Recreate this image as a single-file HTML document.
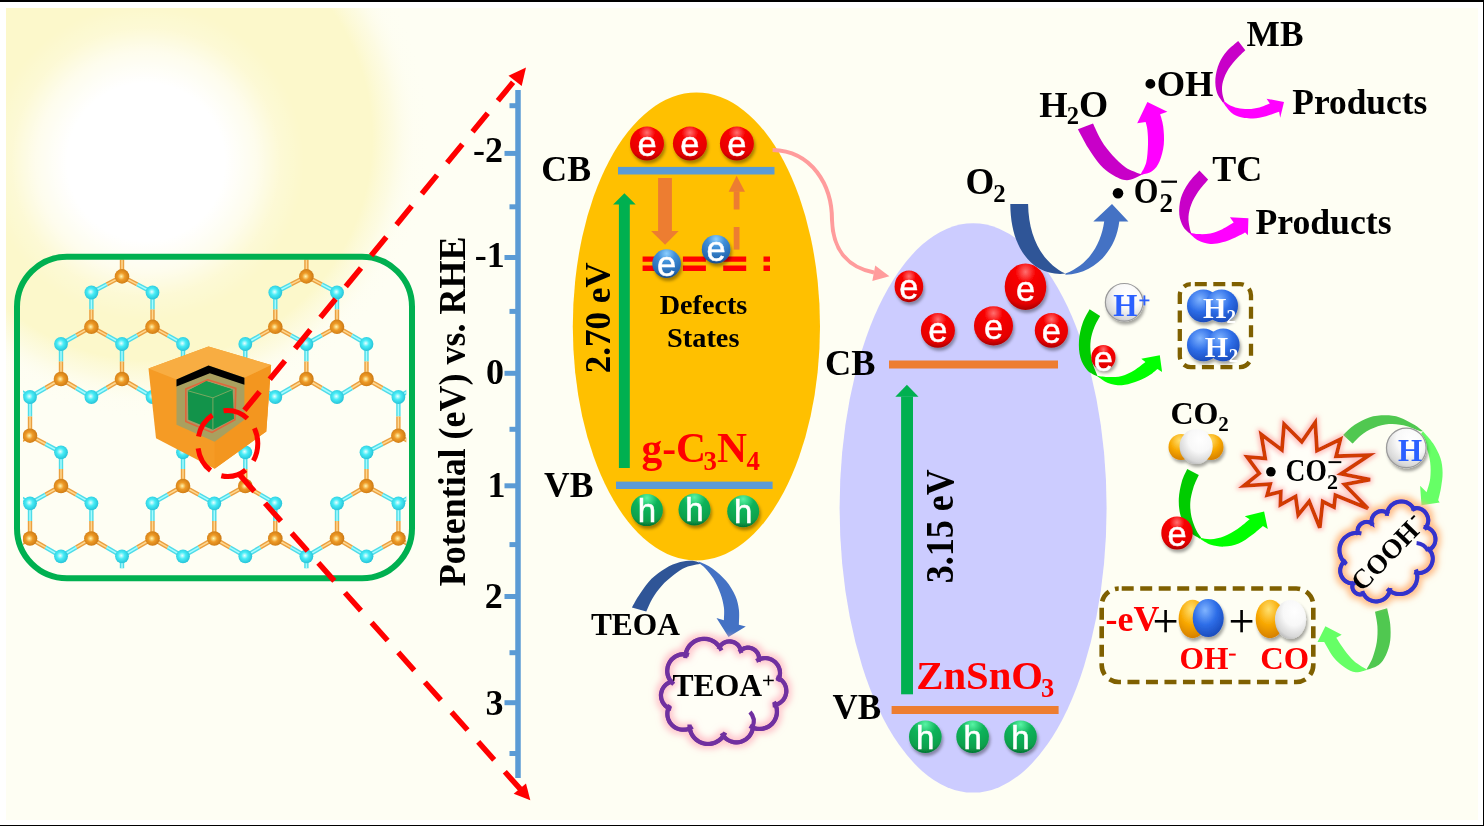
<!DOCTYPE html>
<html><head><meta charset="utf-8"><style>
html,body{margin:0;padding:0;background:#fff;overflow:hidden}
svg{display:block;will-change:transform}
</style></head><body>
<svg width="1484" height="826" viewBox="0 0 1484 826">
<defs>
 <radialGradient id="sunG" cx="150" cy="138" r="300" gradientUnits="userSpaceOnUse">
  <stop offset="0" stop-color="#fcf8cb"/>
  <stop offset="0.74" stop-color="#fcf8cb"/>
  <stop offset="0.81" stop-color="#fcf9d6" stop-opacity="0.6"/>
  <stop offset="0.88" stop-color="#fdfcec" stop-opacity="0.15"/>
  <stop offset="0.94" stop-color="#fefef3" stop-opacity="0"/>
 </radialGradient>
 <radialGradient id="sunW" cx="146" cy="162" r="158" gradientUnits="userSpaceOnUse">
  <stop offset="0" stop-color="#ffffff"/>
  <stop offset="0.5" stop-color="#ffffff"/>
  <stop offset="0.7" stop-color="#ffffff" stop-opacity="0.65"/>
  <stop offset="0.85" stop-color="#ffffff" stop-opacity="0.2"/>
  <stop offset="1" stop-color="#ffffff" stop-opacity="0"/>
 </radialGradient>
 <radialGradient id="cyanB" cx="0.45" cy="0.45" r="0.6">
  <stop offset="0" stop-color="#e8ffff"/>
  <stop offset="0.4" stop-color="#48ecf6"/>
  <stop offset="1" stop-color="#22bed4"/>
 </radialGradient>
 <radialGradient id="orB" cx="0.45" cy="0.5" r="0.6">
  <stop offset="0" stop-color="#fff6b0"/>
  <stop offset="0.4" stop-color="#ee9a26"/>
  <stop offset="1" stop-color="#c67410"/>
 </radialGradient>
 <radialGradient id="redB" cx="0.5" cy="0.18" r="0.8">
  <stop offset="0" stop-color="#ff7070"/>
  <stop offset="0.3" stop-color="#f80000"/>
  <stop offset="0.85" stop-color="#e40000"/>
  <stop offset="1" stop-color="#b00000"/>
 </radialGradient>
 <radialGradient id="bluB" cx="0.5" cy="0.15" r="0.85">
  <stop offset="0" stop-color="#8ccfff"/>
  <stop offset="0.35" stop-color="#3f8fd8"/>
  <stop offset="0.85" stop-color="#2466b0"/>
  <stop offset="1" stop-color="#174a88"/>
 </radialGradient>
 <radialGradient id="grnB" cx="0.5" cy="0.12" r="0.85">
  <stop offset="0" stop-color="#58f4a4"/>
  <stop offset="0.4" stop-color="#0db35a"/>
  <stop offset="0.85" stop-color="#09a04c"/>
  <stop offset="1" stop-color="#067a36"/>
 </radialGradient>
 <radialGradient id="whtB" cx="0.62" cy="0.3" r="0.8">
  <stop offset="0" stop-color="#ffffff"/>
  <stop offset="0.45" stop-color="#f8f8f8"/>
  <stop offset="0.8" stop-color="#d8d8d8"/>
  <stop offset="1" stop-color="#a8a8a8"/>
 </radialGradient>
 <radialGradient id="h2B" cx="0.4" cy="0.3" r="0.75">
  <stop offset="0" stop-color="#80b4ff"/>
  <stop offset="0.5" stop-color="#2e6ee8"/>
  <stop offset="1" stop-color="#1848b8"/>
 </radialGradient>
 <radialGradient id="orS" cx="0.45" cy="0.25" r="0.8">
  <stop offset="0" stop-color="#ffe070"/>
  <stop offset="0.5" stop-color="#f8a800"/>
  <stop offset="1" stop-color="#d07a00"/>
 </radialGradient>
 <clipPath id="latClip"><rect x="23" y="259.5" width="383.3" height="308.8"/></clipPath>
 <filter id="sh" x="-40%" y="-40%" width="190%" height="190%">
  <feDropShadow dx="1.5" dy="3" stdDeviation="1.8" flood-color="#000" flood-opacity="0.35"/>
 </filter>
 <filter id="glowR" x="-20%" y="-20%" width="140%" height="140%">
  <feMorphology operator="dilate" radius="1.5" in="SourceAlpha" result="d"/>
  <feGaussianBlur in="d" stdDeviation="2.2" result="b"/>
  <feFlood flood-color="#ff9a9a" flood-opacity="0.55"/>
  <feComposite in2="b" operator="in" result="g"/>
  <feMerge><feMergeNode in="g"/><feMergeNode in="SourceGraphic"/></feMerge>
 </filter>
 <filter id="glowO" x="-20%" y="-20%" width="140%" height="140%">
  <feMorphology operator="dilate" radius="3" in="SourceAlpha" result="d"/>
  <feGaussianBlur in="d" stdDeviation="3" result="b"/>
  <feFlood flood-color="#ffb47a" flood-opacity="0.9"/>
  <feComposite in2="b" operator="in" result="g"/>
  <feMerge><feMergeNode in="g"/><feMergeNode in="SourceGraphic"/></feMerge>
 </filter>
 <filter id="glowPk" x="-20%" y="-20%" width="140%" height="140%">
  <feMorphology operator="dilate" radius="2.5" in="SourceAlpha" result="d"/>
  <feGaussianBlur in="d" stdDeviation="3" result="b"/>
  <feFlood flood-color="#ffb4c0" flood-opacity="0.75"/>
  <feComposite in2="b" operator="in" result="g"/>
  <feMerge><feMergeNode in="g"/><feMergeNode in="SourceGraphic"/></feMerge>
 </filter>
</defs>
<rect x="0" y="0" width="1484" height="826" fill="#ffffff"/>
<rect x="6" y="8" width="1472" height="812" fill="#fefef3"/>
<rect x="6" y="8" width="1472" height="812" fill="url(#sunG)"/>
<rect x="6" y="8" width="1472" height="812" fill="url(#sunW)"/>
<rect x="0" y="0" width="1484" height="2" fill="#000"/>
<rect x="1483" y="0" width="1" height="826" fill="#000"/>
<rect x="0" y="825" width="1484" height="1" fill="#000"/>
<g clip-path="url(#latClip)"><line x1="122.0" y1="241.5" x2="122.0" y2="258.9" stroke="#4fdce8" stroke-width="4.4"/><line x1="122.0" y1="258.9" x2="122.0" y2="276.4" stroke="#eaa040" stroke-width="4.4"/><line x1="122.0" y1="241.5" x2="122.0" y2="258.9" stroke="#a8fbff" stroke-width="1.5"/><line x1="122.0" y1="258.9" x2="122.0" y2="276.4" stroke="#ffd890" stroke-width="1.5"/><line x1="306.4" y1="241.5" x2="306.4" y2="258.9" stroke="#4fdce8" stroke-width="4.4"/><line x1="306.4" y1="258.9" x2="306.4" y2="276.4" stroke="#eaa040" stroke-width="4.4"/><line x1="306.4" y1="241.5" x2="306.4" y2="258.9" stroke="#a8fbff" stroke-width="1.5"/><line x1="306.4" y1="258.9" x2="306.4" y2="276.4" stroke="#ffd890" stroke-width="1.5"/><line x1="122.0" y1="276.4" x2="106.7" y2="284.4" stroke="#eaa040" stroke-width="4.4"/><line x1="106.7" y1="284.4" x2="91.4" y2="292.5" stroke="#4fdce8" stroke-width="4.4"/><line x1="122.0" y1="276.4" x2="106.7" y2="284.4" stroke="#ffd890" stroke-width="1.5"/><line x1="106.7" y1="284.4" x2="91.4" y2="292.5" stroke="#a8fbff" stroke-width="1.5"/><line x1="122.0" y1="276.4" x2="137.2" y2="284.4" stroke="#eaa040" stroke-width="4.4"/><line x1="137.2" y1="284.4" x2="152.5" y2="292.5" stroke="#4fdce8" stroke-width="4.4"/><line x1="122.0" y1="276.4" x2="137.2" y2="284.4" stroke="#ffd890" stroke-width="1.5"/><line x1="137.2" y1="284.4" x2="152.5" y2="292.5" stroke="#a8fbff" stroke-width="1.5"/><line x1="306.4" y1="276.4" x2="290.9" y2="284.4" stroke="#eaa040" stroke-width="4.4"/><line x1="290.9" y1="284.4" x2="275.3" y2="292.5" stroke="#4fdce8" stroke-width="4.4"/><line x1="306.4" y1="276.4" x2="290.9" y2="284.4" stroke="#ffd890" stroke-width="1.5"/><line x1="290.9" y1="284.4" x2="275.3" y2="292.5" stroke="#a8fbff" stroke-width="1.5"/><line x1="306.4" y1="276.4" x2="321.7" y2="284.4" stroke="#eaa040" stroke-width="4.4"/><line x1="321.7" y1="284.4" x2="337.0" y2="292.5" stroke="#4fdce8" stroke-width="4.4"/><line x1="306.4" y1="276.4" x2="321.7" y2="284.4" stroke="#ffd890" stroke-width="1.5"/><line x1="321.7" y1="284.4" x2="337.0" y2="292.5" stroke="#a8fbff" stroke-width="1.5"/><line x1="91.4" y1="292.5" x2="91.4" y2="309.6" stroke="#4fdce8" stroke-width="4.4"/><line x1="91.4" y1="309.6" x2="91.4" y2="326.8" stroke="#eaa040" stroke-width="4.4"/><line x1="91.4" y1="292.5" x2="91.4" y2="309.6" stroke="#a8fbff" stroke-width="1.5"/><line x1="91.4" y1="309.6" x2="91.4" y2="326.8" stroke="#ffd890" stroke-width="1.5"/><line x1="152.5" y1="292.5" x2="152.5" y2="309.6" stroke="#4fdce8" stroke-width="4.4"/><line x1="152.5" y1="309.6" x2="152.5" y2="326.8" stroke="#eaa040" stroke-width="4.4"/><line x1="152.5" y1="292.5" x2="152.5" y2="309.6" stroke="#a8fbff" stroke-width="1.5"/><line x1="152.5" y1="309.6" x2="152.5" y2="326.8" stroke="#ffd890" stroke-width="1.5"/><line x1="275.3" y1="292.5" x2="275.3" y2="309.6" stroke="#4fdce8" stroke-width="4.4"/><line x1="275.3" y1="309.6" x2="275.3" y2="326.8" stroke="#eaa040" stroke-width="4.4"/><line x1="275.3" y1="292.5" x2="275.3" y2="309.6" stroke="#a8fbff" stroke-width="1.5"/><line x1="275.3" y1="309.6" x2="275.3" y2="326.8" stroke="#ffd890" stroke-width="1.5"/><line x1="337.0" y1="292.5" x2="337.0" y2="309.6" stroke="#4fdce8" stroke-width="4.4"/><line x1="337.0" y1="309.6" x2="337.0" y2="326.8" stroke="#eaa040" stroke-width="4.4"/><line x1="337.0" y1="292.5" x2="337.0" y2="309.6" stroke="#a8fbff" stroke-width="1.5"/><line x1="337.0" y1="309.6" x2="337.0" y2="326.8" stroke="#ffd890" stroke-width="1.5"/><line x1="-31.4" y1="326.8" x2="-16.1" y2="335.4" stroke="#eaa040" stroke-width="4.4"/><line x1="-16.1" y1="335.4" x2="-0.7" y2="344.0" stroke="#4fdce8" stroke-width="4.4"/><line x1="-31.4" y1="326.8" x2="-16.1" y2="335.4" stroke="#ffd890" stroke-width="1.5"/><line x1="-16.1" y1="335.4" x2="-0.7" y2="344.0" stroke="#a8fbff" stroke-width="1.5"/><line x1="91.4" y1="326.8" x2="76.2" y2="335.4" stroke="#eaa040" stroke-width="4.4"/><line x1="76.2" y1="335.4" x2="61.0" y2="344.0" stroke="#4fdce8" stroke-width="4.4"/><line x1="91.4" y1="326.8" x2="76.2" y2="335.4" stroke="#ffd890" stroke-width="1.5"/><line x1="76.2" y1="335.4" x2="61.0" y2="344.0" stroke="#a8fbff" stroke-width="1.5"/><line x1="91.4" y1="326.8" x2="106.7" y2="335.4" stroke="#eaa040" stroke-width="4.4"/><line x1="106.7" y1="335.4" x2="122.0" y2="344.0" stroke="#4fdce8" stroke-width="4.4"/><line x1="91.4" y1="326.8" x2="106.7" y2="335.4" stroke="#ffd890" stroke-width="1.5"/><line x1="106.7" y1="335.4" x2="122.0" y2="344.0" stroke="#a8fbff" stroke-width="1.5"/><line x1="152.5" y1="326.8" x2="137.2" y2="335.4" stroke="#eaa040" stroke-width="4.4"/><line x1="137.2" y1="335.4" x2="122.0" y2="344.0" stroke="#4fdce8" stroke-width="4.4"/><line x1="152.5" y1="326.8" x2="137.2" y2="335.4" stroke="#ffd890" stroke-width="1.5"/><line x1="137.2" y1="335.4" x2="122.0" y2="344.0" stroke="#a8fbff" stroke-width="1.5"/><line x1="152.5" y1="326.8" x2="167.8" y2="335.4" stroke="#eaa040" stroke-width="4.4"/><line x1="167.8" y1="335.4" x2="183.0" y2="344.0" stroke="#4fdce8" stroke-width="4.4"/><line x1="152.5" y1="326.8" x2="167.8" y2="335.4" stroke="#ffd890" stroke-width="1.5"/><line x1="167.8" y1="335.4" x2="183.0" y2="344.0" stroke="#a8fbff" stroke-width="1.5"/><line x1="275.3" y1="326.8" x2="260.3" y2="335.4" stroke="#eaa040" stroke-width="4.4"/><line x1="260.3" y1="335.4" x2="245.3" y2="344.0" stroke="#4fdce8" stroke-width="4.4"/><line x1="275.3" y1="326.8" x2="260.3" y2="335.4" stroke="#ffd890" stroke-width="1.5"/><line x1="260.3" y1="335.4" x2="245.3" y2="344.0" stroke="#a8fbff" stroke-width="1.5"/><line x1="275.3" y1="326.8" x2="290.9" y2="335.4" stroke="#eaa040" stroke-width="4.4"/><line x1="290.9" y1="335.4" x2="306.4" y2="344.0" stroke="#4fdce8" stroke-width="4.4"/><line x1="275.3" y1="326.8" x2="290.9" y2="335.4" stroke="#ffd890" stroke-width="1.5"/><line x1="290.9" y1="335.4" x2="306.4" y2="344.0" stroke="#a8fbff" stroke-width="1.5"/><line x1="337.0" y1="326.8" x2="321.7" y2="335.4" stroke="#eaa040" stroke-width="4.4"/><line x1="321.7" y1="335.4" x2="306.4" y2="344.0" stroke="#4fdce8" stroke-width="4.4"/><line x1="337.0" y1="326.8" x2="321.7" y2="335.4" stroke="#ffd890" stroke-width="1.5"/><line x1="321.7" y1="335.4" x2="306.4" y2="344.0" stroke="#a8fbff" stroke-width="1.5"/><line x1="337.0" y1="326.8" x2="351.8" y2="335.4" stroke="#eaa040" stroke-width="4.4"/><line x1="351.8" y1="335.4" x2="366.5" y2="344.0" stroke="#4fdce8" stroke-width="4.4"/><line x1="337.0" y1="326.8" x2="351.8" y2="335.4" stroke="#ffd890" stroke-width="1.5"/><line x1="351.8" y1="335.4" x2="366.5" y2="344.0" stroke="#a8fbff" stroke-width="1.5"/><line x1="459.8" y1="326.8" x2="444.5" y2="335.4" stroke="#eaa040" stroke-width="4.4"/><line x1="444.5" y1="335.4" x2="429.1" y2="344.0" stroke="#4fdce8" stroke-width="4.4"/><line x1="459.8" y1="326.8" x2="444.5" y2="335.4" stroke="#ffd890" stroke-width="1.5"/><line x1="444.5" y1="335.4" x2="429.1" y2="344.0" stroke="#a8fbff" stroke-width="1.5"/><line x1="-0.7" y1="344.0" x2="-0.7" y2="361.5" stroke="#4fdce8" stroke-width="4.4"/><line x1="-0.7" y1="361.5" x2="-0.7" y2="379.0" stroke="#eaa040" stroke-width="4.4"/><line x1="-0.7" y1="344.0" x2="-0.7" y2="361.5" stroke="#a8fbff" stroke-width="1.5"/><line x1="-0.7" y1="361.5" x2="-0.7" y2="379.0" stroke="#ffd890" stroke-width="1.5"/><line x1="61.0" y1="344.0" x2="61.0" y2="361.5" stroke="#4fdce8" stroke-width="4.4"/><line x1="61.0" y1="361.5" x2="61.0" y2="379.0" stroke="#eaa040" stroke-width="4.4"/><line x1="61.0" y1="344.0" x2="61.0" y2="361.5" stroke="#a8fbff" stroke-width="1.5"/><line x1="61.0" y1="361.5" x2="61.0" y2="379.0" stroke="#ffd890" stroke-width="1.5"/><line x1="122.0" y1="344.0" x2="122.0" y2="361.5" stroke="#4fdce8" stroke-width="4.4"/><line x1="122.0" y1="361.5" x2="122.0" y2="379.0" stroke="#eaa040" stroke-width="4.4"/><line x1="122.0" y1="344.0" x2="122.0" y2="361.5" stroke="#a8fbff" stroke-width="1.5"/><line x1="122.0" y1="361.5" x2="122.0" y2="379.0" stroke="#ffd890" stroke-width="1.5"/><line x1="183.0" y1="344.0" x2="183.0" y2="361.5" stroke="#4fdce8" stroke-width="4.4"/><line x1="183.0" y1="361.5" x2="183.0" y2="379.0" stroke="#eaa040" stroke-width="4.4"/><line x1="183.0" y1="344.0" x2="183.0" y2="361.5" stroke="#a8fbff" stroke-width="1.5"/><line x1="183.0" y1="361.5" x2="183.0" y2="379.0" stroke="#ffd890" stroke-width="1.5"/><line x1="245.3" y1="344.0" x2="245.3" y2="361.5" stroke="#4fdce8" stroke-width="4.4"/><line x1="245.3" y1="361.5" x2="245.3" y2="379.0" stroke="#eaa040" stroke-width="4.4"/><line x1="245.3" y1="344.0" x2="245.3" y2="361.5" stroke="#a8fbff" stroke-width="1.5"/><line x1="245.3" y1="361.5" x2="245.3" y2="379.0" stroke="#ffd890" stroke-width="1.5"/><line x1="306.4" y1="344.0" x2="306.4" y2="361.5" stroke="#4fdce8" stroke-width="4.4"/><line x1="306.4" y1="361.5" x2="306.4" y2="379.0" stroke="#eaa040" stroke-width="4.4"/><line x1="306.4" y1="344.0" x2="306.4" y2="361.5" stroke="#a8fbff" stroke-width="1.5"/><line x1="306.4" y1="361.5" x2="306.4" y2="379.0" stroke="#ffd890" stroke-width="1.5"/><line x1="366.5" y1="344.0" x2="366.5" y2="361.5" stroke="#4fdce8" stroke-width="4.4"/><line x1="366.5" y1="361.5" x2="366.5" y2="379.0" stroke="#eaa040" stroke-width="4.4"/><line x1="366.5" y1="344.0" x2="366.5" y2="361.5" stroke="#a8fbff" stroke-width="1.5"/><line x1="366.5" y1="361.5" x2="366.5" y2="379.0" stroke="#ffd890" stroke-width="1.5"/><line x1="429.1" y1="344.0" x2="429.1" y2="361.5" stroke="#4fdce8" stroke-width="4.4"/><line x1="429.1" y1="361.5" x2="429.1" y2="379.0" stroke="#eaa040" stroke-width="4.4"/><line x1="429.1" y1="344.0" x2="429.1" y2="361.5" stroke="#a8fbff" stroke-width="1.5"/><line x1="429.1" y1="361.5" x2="429.1" y2="379.0" stroke="#ffd890" stroke-width="1.5"/><line x1="-0.7" y1="379.0" x2="-16.1" y2="388.0" stroke="#eaa040" stroke-width="4.4"/><line x1="-16.1" y1="388.0" x2="-31.4" y2="397.0" stroke="#4fdce8" stroke-width="4.4"/><line x1="-0.7" y1="379.0" x2="-16.1" y2="388.0" stroke="#ffd890" stroke-width="1.5"/><line x1="-16.1" y1="388.0" x2="-31.4" y2="397.0" stroke="#a8fbff" stroke-width="1.5"/><line x1="-0.7" y1="379.0" x2="14.7" y2="388.0" stroke="#eaa040" stroke-width="4.4"/><line x1="14.7" y1="388.0" x2="30.0" y2="397.0" stroke="#4fdce8" stroke-width="4.4"/><line x1="-0.7" y1="379.0" x2="14.7" y2="388.0" stroke="#ffd890" stroke-width="1.5"/><line x1="14.7" y1="388.0" x2="30.0" y2="397.0" stroke="#a8fbff" stroke-width="1.5"/><line x1="61.0" y1="379.0" x2="45.5" y2="388.0" stroke="#eaa040" stroke-width="4.4"/><line x1="45.5" y1="388.0" x2="30.0" y2="397.0" stroke="#4fdce8" stroke-width="4.4"/><line x1="61.0" y1="379.0" x2="45.5" y2="388.0" stroke="#ffd890" stroke-width="1.5"/><line x1="45.5" y1="388.0" x2="30.0" y2="397.0" stroke="#a8fbff" stroke-width="1.5"/><line x1="61.0" y1="379.0" x2="76.2" y2="388.0" stroke="#eaa040" stroke-width="4.4"/><line x1="76.2" y1="388.0" x2="91.4" y2="397.0" stroke="#4fdce8" stroke-width="4.4"/><line x1="61.0" y1="379.0" x2="76.2" y2="388.0" stroke="#ffd890" stroke-width="1.5"/><line x1="76.2" y1="388.0" x2="91.4" y2="397.0" stroke="#a8fbff" stroke-width="1.5"/><line x1="122.0" y1="379.0" x2="106.7" y2="388.0" stroke="#eaa040" stroke-width="4.4"/><line x1="106.7" y1="388.0" x2="91.4" y2="397.0" stroke="#4fdce8" stroke-width="4.4"/><line x1="122.0" y1="379.0" x2="106.7" y2="388.0" stroke="#ffd890" stroke-width="1.5"/><line x1="106.7" y1="388.0" x2="91.4" y2="397.0" stroke="#a8fbff" stroke-width="1.5"/><line x1="122.0" y1="379.0" x2="137.2" y2="388.0" stroke="#eaa040" stroke-width="4.4"/><line x1="137.2" y1="388.0" x2="152.5" y2="397.0" stroke="#4fdce8" stroke-width="4.4"/><line x1="122.0" y1="379.0" x2="137.2" y2="388.0" stroke="#ffd890" stroke-width="1.5"/><line x1="137.2" y1="388.0" x2="152.5" y2="397.0" stroke="#a8fbff" stroke-width="1.5"/><line x1="183.0" y1="379.0" x2="167.8" y2="388.0" stroke="#eaa040" stroke-width="4.4"/><line x1="167.8" y1="388.0" x2="152.5" y2="397.0" stroke="#4fdce8" stroke-width="4.4"/><line x1="183.0" y1="379.0" x2="167.8" y2="388.0" stroke="#ffd890" stroke-width="1.5"/><line x1="167.8" y1="388.0" x2="152.5" y2="397.0" stroke="#a8fbff" stroke-width="1.5"/><line x1="183.0" y1="379.0" x2="198.7" y2="388.0" stroke="#eaa040" stroke-width="4.4"/><line x1="198.7" y1="388.0" x2="214.3" y2="397.0" stroke="#4fdce8" stroke-width="4.4"/><line x1="183.0" y1="379.0" x2="198.7" y2="388.0" stroke="#ffd890" stroke-width="1.5"/><line x1="198.7" y1="388.0" x2="214.3" y2="397.0" stroke="#a8fbff" stroke-width="1.5"/><line x1="245.3" y1="379.0" x2="229.8" y2="388.0" stroke="#eaa040" stroke-width="4.4"/><line x1="229.8" y1="388.0" x2="214.3" y2="397.0" stroke="#4fdce8" stroke-width="4.4"/><line x1="245.3" y1="379.0" x2="229.8" y2="388.0" stroke="#ffd890" stroke-width="1.5"/><line x1="229.8" y1="388.0" x2="214.3" y2="397.0" stroke="#a8fbff" stroke-width="1.5"/><line x1="245.3" y1="379.0" x2="260.3" y2="388.0" stroke="#eaa040" stroke-width="4.4"/><line x1="260.3" y1="388.0" x2="275.3" y2="397.0" stroke="#4fdce8" stroke-width="4.4"/><line x1="245.3" y1="379.0" x2="260.3" y2="388.0" stroke="#ffd890" stroke-width="1.5"/><line x1="260.3" y1="388.0" x2="275.3" y2="397.0" stroke="#a8fbff" stroke-width="1.5"/><line x1="306.4" y1="379.0" x2="290.9" y2="388.0" stroke="#eaa040" stroke-width="4.4"/><line x1="290.9" y1="388.0" x2="275.3" y2="397.0" stroke="#4fdce8" stroke-width="4.4"/><line x1="306.4" y1="379.0" x2="290.9" y2="388.0" stroke="#ffd890" stroke-width="1.5"/><line x1="290.9" y1="388.0" x2="275.3" y2="397.0" stroke="#a8fbff" stroke-width="1.5"/><line x1="306.4" y1="379.0" x2="321.7" y2="388.0" stroke="#eaa040" stroke-width="4.4"/><line x1="321.7" y1="388.0" x2="337.0" y2="397.0" stroke="#4fdce8" stroke-width="4.4"/><line x1="306.4" y1="379.0" x2="321.7" y2="388.0" stroke="#ffd890" stroke-width="1.5"/><line x1="321.7" y1="388.0" x2="337.0" y2="397.0" stroke="#a8fbff" stroke-width="1.5"/><line x1="366.5" y1="379.0" x2="351.8" y2="388.0" stroke="#eaa040" stroke-width="4.4"/><line x1="351.8" y1="388.0" x2="337.0" y2="397.0" stroke="#4fdce8" stroke-width="4.4"/><line x1="366.5" y1="379.0" x2="351.8" y2="388.0" stroke="#ffd890" stroke-width="1.5"/><line x1="351.8" y1="388.0" x2="337.0" y2="397.0" stroke="#a8fbff" stroke-width="1.5"/><line x1="366.5" y1="379.0" x2="382.4" y2="388.0" stroke="#eaa040" stroke-width="4.4"/><line x1="382.4" y1="388.0" x2="398.4" y2="397.0" stroke="#4fdce8" stroke-width="4.4"/><line x1="366.5" y1="379.0" x2="382.4" y2="388.0" stroke="#ffd890" stroke-width="1.5"/><line x1="382.4" y1="388.0" x2="398.4" y2="397.0" stroke="#a8fbff" stroke-width="1.5"/><line x1="429.1" y1="379.0" x2="413.8" y2="388.0" stroke="#eaa040" stroke-width="4.4"/><line x1="413.8" y1="388.0" x2="398.4" y2="397.0" stroke="#4fdce8" stroke-width="4.4"/><line x1="429.1" y1="379.0" x2="413.8" y2="388.0" stroke="#ffd890" stroke-width="1.5"/><line x1="413.8" y1="388.0" x2="398.4" y2="397.0" stroke="#a8fbff" stroke-width="1.5"/><line x1="429.1" y1="379.0" x2="444.5" y2="388.0" stroke="#eaa040" stroke-width="4.4"/><line x1="444.5" y1="388.0" x2="459.8" y2="397.0" stroke="#4fdce8" stroke-width="4.4"/><line x1="429.1" y1="379.0" x2="444.5" y2="388.0" stroke="#ffd890" stroke-width="1.5"/><line x1="444.5" y1="388.0" x2="459.8" y2="397.0" stroke="#a8fbff" stroke-width="1.5"/><line x1="30.0" y1="397.0" x2="30.0" y2="416.4" stroke="#4fdce8" stroke-width="4.4"/><line x1="30.0" y1="416.4" x2="30.0" y2="435.7" stroke="#eaa040" stroke-width="4.4"/><line x1="30.0" y1="397.0" x2="30.0" y2="416.4" stroke="#a8fbff" stroke-width="1.5"/><line x1="30.0" y1="416.4" x2="30.0" y2="435.7" stroke="#ffd890" stroke-width="1.5"/><line x1="214.3" y1="397.0" x2="214.3" y2="416.4" stroke="#4fdce8" stroke-width="4.4"/><line x1="214.3" y1="416.4" x2="214.3" y2="435.7" stroke="#eaa040" stroke-width="4.4"/><line x1="214.3" y1="397.0" x2="214.3" y2="416.4" stroke="#a8fbff" stroke-width="1.5"/><line x1="214.3" y1="416.4" x2="214.3" y2="435.7" stroke="#ffd890" stroke-width="1.5"/><line x1="398.4" y1="397.0" x2="398.4" y2="416.4" stroke="#4fdce8" stroke-width="4.4"/><line x1="398.4" y1="416.4" x2="398.4" y2="435.7" stroke="#eaa040" stroke-width="4.4"/><line x1="398.4" y1="397.0" x2="398.4" y2="416.4" stroke="#a8fbff" stroke-width="1.5"/><line x1="398.4" y1="416.4" x2="398.4" y2="435.7" stroke="#ffd890" stroke-width="1.5"/><line x1="30.0" y1="435.7" x2="14.7" y2="444.0" stroke="#eaa040" stroke-width="4.4"/><line x1="14.7" y1="444.0" x2="-0.7" y2="452.3" stroke="#4fdce8" stroke-width="4.4"/><line x1="30.0" y1="435.7" x2="14.7" y2="444.0" stroke="#ffd890" stroke-width="1.5"/><line x1="14.7" y1="444.0" x2="-0.7" y2="452.3" stroke="#a8fbff" stroke-width="1.5"/><line x1="30.0" y1="435.7" x2="45.5" y2="444.0" stroke="#eaa040" stroke-width="4.4"/><line x1="45.5" y1="444.0" x2="61.0" y2="452.3" stroke="#4fdce8" stroke-width="4.4"/><line x1="30.0" y1="435.7" x2="45.5" y2="444.0" stroke="#ffd890" stroke-width="1.5"/><line x1="45.5" y1="444.0" x2="61.0" y2="452.3" stroke="#a8fbff" stroke-width="1.5"/><line x1="214.3" y1="435.7" x2="198.7" y2="444.0" stroke="#eaa040" stroke-width="4.4"/><line x1="198.7" y1="444.0" x2="183.0" y2="452.3" stroke="#4fdce8" stroke-width="4.4"/><line x1="214.3" y1="435.7" x2="198.7" y2="444.0" stroke="#ffd890" stroke-width="1.5"/><line x1="198.7" y1="444.0" x2="183.0" y2="452.3" stroke="#a8fbff" stroke-width="1.5"/><line x1="214.3" y1="435.7" x2="229.8" y2="444.0" stroke="#eaa040" stroke-width="4.4"/><line x1="229.8" y1="444.0" x2="245.3" y2="452.3" stroke="#4fdce8" stroke-width="4.4"/><line x1="214.3" y1="435.7" x2="229.8" y2="444.0" stroke="#ffd890" stroke-width="1.5"/><line x1="229.8" y1="444.0" x2="245.3" y2="452.3" stroke="#a8fbff" stroke-width="1.5"/><line x1="398.4" y1="435.7" x2="382.4" y2="444.0" stroke="#eaa040" stroke-width="4.4"/><line x1="382.4" y1="444.0" x2="366.5" y2="452.3" stroke="#4fdce8" stroke-width="4.4"/><line x1="398.4" y1="435.7" x2="382.4" y2="444.0" stroke="#ffd890" stroke-width="1.5"/><line x1="382.4" y1="444.0" x2="366.5" y2="452.3" stroke="#a8fbff" stroke-width="1.5"/><line x1="398.4" y1="435.7" x2="413.8" y2="444.0" stroke="#eaa040" stroke-width="4.4"/><line x1="413.8" y1="444.0" x2="429.1" y2="452.3" stroke="#4fdce8" stroke-width="4.4"/><line x1="398.4" y1="435.7" x2="413.8" y2="444.0" stroke="#ffd890" stroke-width="1.5"/><line x1="413.8" y1="444.0" x2="429.1" y2="452.3" stroke="#a8fbff" stroke-width="1.5"/><line x1="-0.7" y1="452.3" x2="-0.7" y2="469.1" stroke="#4fdce8" stroke-width="4.4"/><line x1="-0.7" y1="469.1" x2="-0.7" y2="486.0" stroke="#eaa040" stroke-width="4.4"/><line x1="-0.7" y1="452.3" x2="-0.7" y2="469.1" stroke="#a8fbff" stroke-width="1.5"/><line x1="-0.7" y1="469.1" x2="-0.7" y2="486.0" stroke="#ffd890" stroke-width="1.5"/><line x1="61.0" y1="452.3" x2="61.0" y2="469.1" stroke="#4fdce8" stroke-width="4.4"/><line x1="61.0" y1="469.1" x2="61.0" y2="486.0" stroke="#eaa040" stroke-width="4.4"/><line x1="61.0" y1="452.3" x2="61.0" y2="469.1" stroke="#a8fbff" stroke-width="1.5"/><line x1="61.0" y1="469.1" x2="61.0" y2="486.0" stroke="#ffd890" stroke-width="1.5"/><line x1="183.0" y1="452.3" x2="183.0" y2="469.1" stroke="#4fdce8" stroke-width="4.4"/><line x1="183.0" y1="469.1" x2="183.0" y2="486.0" stroke="#eaa040" stroke-width="4.4"/><line x1="183.0" y1="452.3" x2="183.0" y2="469.1" stroke="#a8fbff" stroke-width="1.5"/><line x1="183.0" y1="469.1" x2="183.0" y2="486.0" stroke="#ffd890" stroke-width="1.5"/><line x1="245.3" y1="452.3" x2="245.3" y2="469.1" stroke="#4fdce8" stroke-width="4.4"/><line x1="245.3" y1="469.1" x2="245.3" y2="486.0" stroke="#eaa040" stroke-width="4.4"/><line x1="245.3" y1="452.3" x2="245.3" y2="469.1" stroke="#a8fbff" stroke-width="1.5"/><line x1="245.3" y1="469.1" x2="245.3" y2="486.0" stroke="#ffd890" stroke-width="1.5"/><line x1="366.5" y1="452.3" x2="366.5" y2="469.1" stroke="#4fdce8" stroke-width="4.4"/><line x1="366.5" y1="469.1" x2="366.5" y2="486.0" stroke="#eaa040" stroke-width="4.4"/><line x1="366.5" y1="452.3" x2="366.5" y2="469.1" stroke="#a8fbff" stroke-width="1.5"/><line x1="366.5" y1="469.1" x2="366.5" y2="486.0" stroke="#ffd890" stroke-width="1.5"/><line x1="429.1" y1="452.3" x2="429.1" y2="469.1" stroke="#4fdce8" stroke-width="4.4"/><line x1="429.1" y1="469.1" x2="429.1" y2="486.0" stroke="#eaa040" stroke-width="4.4"/><line x1="429.1" y1="452.3" x2="429.1" y2="469.1" stroke="#a8fbff" stroke-width="1.5"/><line x1="429.1" y1="469.1" x2="429.1" y2="486.0" stroke="#ffd890" stroke-width="1.5"/><line x1="-0.7" y1="486.0" x2="-16.1" y2="494.6" stroke="#eaa040" stroke-width="4.4"/><line x1="-16.1" y1="494.6" x2="-31.4" y2="503.3" stroke="#4fdce8" stroke-width="4.4"/><line x1="-0.7" y1="486.0" x2="-16.1" y2="494.6" stroke="#ffd890" stroke-width="1.5"/><line x1="-16.1" y1="494.6" x2="-31.4" y2="503.3" stroke="#a8fbff" stroke-width="1.5"/><line x1="-0.7" y1="486.0" x2="14.7" y2="494.6" stroke="#eaa040" stroke-width="4.4"/><line x1="14.7" y1="494.6" x2="30.0" y2="503.3" stroke="#4fdce8" stroke-width="4.4"/><line x1="-0.7" y1="486.0" x2="14.7" y2="494.6" stroke="#ffd890" stroke-width="1.5"/><line x1="14.7" y1="494.6" x2="30.0" y2="503.3" stroke="#a8fbff" stroke-width="1.5"/><line x1="61.0" y1="486.0" x2="45.5" y2="494.6" stroke="#eaa040" stroke-width="4.4"/><line x1="45.5" y1="494.6" x2="30.0" y2="503.3" stroke="#4fdce8" stroke-width="4.4"/><line x1="61.0" y1="486.0" x2="45.5" y2="494.6" stroke="#ffd890" stroke-width="1.5"/><line x1="45.5" y1="494.6" x2="30.0" y2="503.3" stroke="#a8fbff" stroke-width="1.5"/><line x1="61.0" y1="486.0" x2="76.2" y2="494.6" stroke="#eaa040" stroke-width="4.4"/><line x1="76.2" y1="494.6" x2="91.4" y2="503.3" stroke="#4fdce8" stroke-width="4.4"/><line x1="61.0" y1="486.0" x2="76.2" y2="494.6" stroke="#ffd890" stroke-width="1.5"/><line x1="76.2" y1="494.6" x2="91.4" y2="503.3" stroke="#a8fbff" stroke-width="1.5"/><line x1="183.0" y1="486.0" x2="167.8" y2="494.6" stroke="#eaa040" stroke-width="4.4"/><line x1="167.8" y1="494.6" x2="152.5" y2="503.3" stroke="#4fdce8" stroke-width="4.4"/><line x1="183.0" y1="486.0" x2="167.8" y2="494.6" stroke="#ffd890" stroke-width="1.5"/><line x1="167.8" y1="494.6" x2="152.5" y2="503.3" stroke="#a8fbff" stroke-width="1.5"/><line x1="183.0" y1="486.0" x2="198.7" y2="494.6" stroke="#eaa040" stroke-width="4.4"/><line x1="198.7" y1="494.6" x2="214.3" y2="503.3" stroke="#4fdce8" stroke-width="4.4"/><line x1="183.0" y1="486.0" x2="198.7" y2="494.6" stroke="#ffd890" stroke-width="1.5"/><line x1="198.7" y1="494.6" x2="214.3" y2="503.3" stroke="#a8fbff" stroke-width="1.5"/><line x1="245.3" y1="486.0" x2="229.8" y2="494.6" stroke="#eaa040" stroke-width="4.4"/><line x1="229.8" y1="494.6" x2="214.3" y2="503.3" stroke="#4fdce8" stroke-width="4.4"/><line x1="245.3" y1="486.0" x2="229.8" y2="494.6" stroke="#ffd890" stroke-width="1.5"/><line x1="229.8" y1="494.6" x2="214.3" y2="503.3" stroke="#a8fbff" stroke-width="1.5"/><line x1="245.3" y1="486.0" x2="260.3" y2="494.6" stroke="#eaa040" stroke-width="4.4"/><line x1="260.3" y1="494.6" x2="275.3" y2="503.3" stroke="#4fdce8" stroke-width="4.4"/><line x1="245.3" y1="486.0" x2="260.3" y2="494.6" stroke="#ffd890" stroke-width="1.5"/><line x1="260.3" y1="494.6" x2="275.3" y2="503.3" stroke="#a8fbff" stroke-width="1.5"/><line x1="366.5" y1="486.0" x2="351.8" y2="494.6" stroke="#eaa040" stroke-width="4.4"/><line x1="351.8" y1="494.6" x2="337.0" y2="503.3" stroke="#4fdce8" stroke-width="4.4"/><line x1="366.5" y1="486.0" x2="351.8" y2="494.6" stroke="#ffd890" stroke-width="1.5"/><line x1="351.8" y1="494.6" x2="337.0" y2="503.3" stroke="#a8fbff" stroke-width="1.5"/><line x1="366.5" y1="486.0" x2="382.4" y2="494.6" stroke="#eaa040" stroke-width="4.4"/><line x1="382.4" y1="494.6" x2="398.4" y2="503.3" stroke="#4fdce8" stroke-width="4.4"/><line x1="366.5" y1="486.0" x2="382.4" y2="494.6" stroke="#ffd890" stroke-width="1.5"/><line x1="382.4" y1="494.6" x2="398.4" y2="503.3" stroke="#a8fbff" stroke-width="1.5"/><line x1="429.1" y1="486.0" x2="413.8" y2="494.6" stroke="#eaa040" stroke-width="4.4"/><line x1="413.8" y1="494.6" x2="398.4" y2="503.3" stroke="#4fdce8" stroke-width="4.4"/><line x1="429.1" y1="486.0" x2="413.8" y2="494.6" stroke="#ffd890" stroke-width="1.5"/><line x1="413.8" y1="494.6" x2="398.4" y2="503.3" stroke="#a8fbff" stroke-width="1.5"/><line x1="429.1" y1="486.0" x2="444.5" y2="494.6" stroke="#eaa040" stroke-width="4.4"/><line x1="444.5" y1="494.6" x2="459.8" y2="503.3" stroke="#4fdce8" stroke-width="4.4"/><line x1="429.1" y1="486.0" x2="444.5" y2="494.6" stroke="#ffd890" stroke-width="1.5"/><line x1="444.5" y1="494.6" x2="459.8" y2="503.3" stroke="#a8fbff" stroke-width="1.5"/><line x1="30.0" y1="503.3" x2="30.0" y2="520.9" stroke="#4fdce8" stroke-width="4.4"/><line x1="30.0" y1="520.9" x2="30.0" y2="538.5" stroke="#eaa040" stroke-width="4.4"/><line x1="30.0" y1="503.3" x2="30.0" y2="520.9" stroke="#a8fbff" stroke-width="1.5"/><line x1="30.0" y1="520.9" x2="30.0" y2="538.5" stroke="#ffd890" stroke-width="1.5"/><line x1="91.4" y1="503.3" x2="91.4" y2="520.9" stroke="#4fdce8" stroke-width="4.4"/><line x1="91.4" y1="520.9" x2="91.4" y2="538.5" stroke="#eaa040" stroke-width="4.4"/><line x1="91.4" y1="503.3" x2="91.4" y2="520.9" stroke="#a8fbff" stroke-width="1.5"/><line x1="91.4" y1="520.9" x2="91.4" y2="538.5" stroke="#ffd890" stroke-width="1.5"/><line x1="152.5" y1="503.3" x2="152.5" y2="520.9" stroke="#4fdce8" stroke-width="4.4"/><line x1="152.5" y1="520.9" x2="152.5" y2="538.5" stroke="#eaa040" stroke-width="4.4"/><line x1="152.5" y1="503.3" x2="152.5" y2="520.9" stroke="#a8fbff" stroke-width="1.5"/><line x1="152.5" y1="520.9" x2="152.5" y2="538.5" stroke="#ffd890" stroke-width="1.5"/><line x1="214.3" y1="503.3" x2="214.3" y2="520.9" stroke="#4fdce8" stroke-width="4.4"/><line x1="214.3" y1="520.9" x2="214.3" y2="538.5" stroke="#eaa040" stroke-width="4.4"/><line x1="214.3" y1="503.3" x2="214.3" y2="520.9" stroke="#a8fbff" stroke-width="1.5"/><line x1="214.3" y1="520.9" x2="214.3" y2="538.5" stroke="#ffd890" stroke-width="1.5"/><line x1="275.3" y1="503.3" x2="275.3" y2="520.9" stroke="#4fdce8" stroke-width="4.4"/><line x1="275.3" y1="520.9" x2="275.3" y2="538.5" stroke="#eaa040" stroke-width="4.4"/><line x1="275.3" y1="503.3" x2="275.3" y2="520.9" stroke="#a8fbff" stroke-width="1.5"/><line x1="275.3" y1="520.9" x2="275.3" y2="538.5" stroke="#ffd890" stroke-width="1.5"/><line x1="337.0" y1="503.3" x2="337.0" y2="520.9" stroke="#4fdce8" stroke-width="4.4"/><line x1="337.0" y1="520.9" x2="337.0" y2="538.5" stroke="#eaa040" stroke-width="4.4"/><line x1="337.0" y1="503.3" x2="337.0" y2="520.9" stroke="#a8fbff" stroke-width="1.5"/><line x1="337.0" y1="520.9" x2="337.0" y2="538.5" stroke="#ffd890" stroke-width="1.5"/><line x1="398.4" y1="503.3" x2="398.4" y2="520.9" stroke="#4fdce8" stroke-width="4.4"/><line x1="398.4" y1="520.9" x2="398.4" y2="538.5" stroke="#eaa040" stroke-width="4.4"/><line x1="398.4" y1="503.3" x2="398.4" y2="520.9" stroke="#a8fbff" stroke-width="1.5"/><line x1="398.4" y1="520.9" x2="398.4" y2="538.5" stroke="#ffd890" stroke-width="1.5"/><line x1="-31.4" y1="538.5" x2="-16.1" y2="547.4" stroke="#eaa040" stroke-width="4.4"/><line x1="-16.1" y1="547.4" x2="-0.7" y2="556.3" stroke="#4fdce8" stroke-width="4.4"/><line x1="-31.4" y1="538.5" x2="-16.1" y2="547.4" stroke="#ffd890" stroke-width="1.5"/><line x1="-16.1" y1="547.4" x2="-0.7" y2="556.3" stroke="#a8fbff" stroke-width="1.5"/><line x1="30.0" y1="538.5" x2="14.7" y2="547.4" stroke="#eaa040" stroke-width="4.4"/><line x1="14.7" y1="547.4" x2="-0.7" y2="556.3" stroke="#4fdce8" stroke-width="4.4"/><line x1="30.0" y1="538.5" x2="14.7" y2="547.4" stroke="#ffd890" stroke-width="1.5"/><line x1="14.7" y1="547.4" x2="-0.7" y2="556.3" stroke="#a8fbff" stroke-width="1.5"/><line x1="30.0" y1="538.5" x2="45.5" y2="547.4" stroke="#eaa040" stroke-width="4.4"/><line x1="45.5" y1="547.4" x2="61.0" y2="556.3" stroke="#4fdce8" stroke-width="4.4"/><line x1="30.0" y1="538.5" x2="45.5" y2="547.4" stroke="#ffd890" stroke-width="1.5"/><line x1="45.5" y1="547.4" x2="61.0" y2="556.3" stroke="#a8fbff" stroke-width="1.5"/><line x1="91.4" y1="538.5" x2="76.2" y2="547.4" stroke="#eaa040" stroke-width="4.4"/><line x1="76.2" y1="547.4" x2="61.0" y2="556.3" stroke="#4fdce8" stroke-width="4.4"/><line x1="91.4" y1="538.5" x2="76.2" y2="547.4" stroke="#ffd890" stroke-width="1.5"/><line x1="76.2" y1="547.4" x2="61.0" y2="556.3" stroke="#a8fbff" stroke-width="1.5"/><line x1="91.4" y1="538.5" x2="106.7" y2="547.4" stroke="#eaa040" stroke-width="4.4"/><line x1="106.7" y1="547.4" x2="122.0" y2="556.3" stroke="#4fdce8" stroke-width="4.4"/><line x1="91.4" y1="538.5" x2="106.7" y2="547.4" stroke="#ffd890" stroke-width="1.5"/><line x1="106.7" y1="547.4" x2="122.0" y2="556.3" stroke="#a8fbff" stroke-width="1.5"/><line x1="152.5" y1="538.5" x2="137.2" y2="547.4" stroke="#eaa040" stroke-width="4.4"/><line x1="137.2" y1="547.4" x2="122.0" y2="556.3" stroke="#4fdce8" stroke-width="4.4"/><line x1="152.5" y1="538.5" x2="137.2" y2="547.4" stroke="#ffd890" stroke-width="1.5"/><line x1="137.2" y1="547.4" x2="122.0" y2="556.3" stroke="#a8fbff" stroke-width="1.5"/><line x1="152.5" y1="538.5" x2="167.8" y2="547.4" stroke="#eaa040" stroke-width="4.4"/><line x1="167.8" y1="547.4" x2="183.0" y2="556.3" stroke="#4fdce8" stroke-width="4.4"/><line x1="152.5" y1="538.5" x2="167.8" y2="547.4" stroke="#ffd890" stroke-width="1.5"/><line x1="167.8" y1="547.4" x2="183.0" y2="556.3" stroke="#a8fbff" stroke-width="1.5"/><line x1="214.3" y1="538.5" x2="198.7" y2="547.4" stroke="#eaa040" stroke-width="4.4"/><line x1="198.7" y1="547.4" x2="183.0" y2="556.3" stroke="#4fdce8" stroke-width="4.4"/><line x1="214.3" y1="538.5" x2="198.7" y2="547.4" stroke="#ffd890" stroke-width="1.5"/><line x1="198.7" y1="547.4" x2="183.0" y2="556.3" stroke="#a8fbff" stroke-width="1.5"/><line x1="214.3" y1="538.5" x2="229.8" y2="547.4" stroke="#eaa040" stroke-width="4.4"/><line x1="229.8" y1="547.4" x2="245.3" y2="556.3" stroke="#4fdce8" stroke-width="4.4"/><line x1="214.3" y1="538.5" x2="229.8" y2="547.4" stroke="#ffd890" stroke-width="1.5"/><line x1="229.8" y1="547.4" x2="245.3" y2="556.3" stroke="#a8fbff" stroke-width="1.5"/><line x1="275.3" y1="538.5" x2="260.3" y2="547.4" stroke="#eaa040" stroke-width="4.4"/><line x1="260.3" y1="547.4" x2="245.3" y2="556.3" stroke="#4fdce8" stroke-width="4.4"/><line x1="275.3" y1="538.5" x2="260.3" y2="547.4" stroke="#ffd890" stroke-width="1.5"/><line x1="260.3" y1="547.4" x2="245.3" y2="556.3" stroke="#a8fbff" stroke-width="1.5"/><line x1="275.3" y1="538.5" x2="290.9" y2="547.4" stroke="#eaa040" stroke-width="4.4"/><line x1="290.9" y1="547.4" x2="306.4" y2="556.3" stroke="#4fdce8" stroke-width="4.4"/><line x1="275.3" y1="538.5" x2="290.9" y2="547.4" stroke="#ffd890" stroke-width="1.5"/><line x1="290.9" y1="547.4" x2="306.4" y2="556.3" stroke="#a8fbff" stroke-width="1.5"/><line x1="337.0" y1="538.5" x2="321.7" y2="547.4" stroke="#eaa040" stroke-width="4.4"/><line x1="321.7" y1="547.4" x2="306.4" y2="556.3" stroke="#4fdce8" stroke-width="4.4"/><line x1="337.0" y1="538.5" x2="321.7" y2="547.4" stroke="#ffd890" stroke-width="1.5"/><line x1="321.7" y1="547.4" x2="306.4" y2="556.3" stroke="#a8fbff" stroke-width="1.5"/><line x1="337.0" y1="538.5" x2="351.8" y2="547.4" stroke="#eaa040" stroke-width="4.4"/><line x1="351.8" y1="547.4" x2="366.5" y2="556.3" stroke="#4fdce8" stroke-width="4.4"/><line x1="337.0" y1="538.5" x2="351.8" y2="547.4" stroke="#ffd890" stroke-width="1.5"/><line x1="351.8" y1="547.4" x2="366.5" y2="556.3" stroke="#a8fbff" stroke-width="1.5"/><line x1="398.4" y1="538.5" x2="382.4" y2="547.4" stroke="#eaa040" stroke-width="4.4"/><line x1="382.4" y1="547.4" x2="366.5" y2="556.3" stroke="#4fdce8" stroke-width="4.4"/><line x1="398.4" y1="538.5" x2="382.4" y2="547.4" stroke="#ffd890" stroke-width="1.5"/><line x1="382.4" y1="547.4" x2="366.5" y2="556.3" stroke="#a8fbff" stroke-width="1.5"/><line x1="398.4" y1="538.5" x2="413.8" y2="547.4" stroke="#eaa040" stroke-width="4.4"/><line x1="413.8" y1="547.4" x2="429.1" y2="556.3" stroke="#4fdce8" stroke-width="4.4"/><line x1="398.4" y1="538.5" x2="413.8" y2="547.4" stroke="#ffd890" stroke-width="1.5"/><line x1="413.8" y1="547.4" x2="429.1" y2="556.3" stroke="#a8fbff" stroke-width="1.5"/><line x1="459.8" y1="538.5" x2="444.5" y2="547.4" stroke="#eaa040" stroke-width="4.4"/><line x1="444.5" y1="547.4" x2="429.1" y2="556.3" stroke="#4fdce8" stroke-width="4.4"/><line x1="459.8" y1="538.5" x2="444.5" y2="547.4" stroke="#ffd890" stroke-width="1.5"/><line x1="444.5" y1="547.4" x2="429.1" y2="556.3" stroke="#a8fbff" stroke-width="1.5"/><line x1="122.0" y1="556.3" x2="122.0" y2="573.6" stroke="#4fdce8" stroke-width="4.4"/><line x1="122.0" y1="573.6" x2="122.0" y2="591.0" stroke="#eaa040" stroke-width="4.4"/><line x1="122.0" y1="556.3" x2="122.0" y2="573.6" stroke="#a8fbff" stroke-width="1.5"/><line x1="122.0" y1="573.6" x2="122.0" y2="591.0" stroke="#ffd890" stroke-width="1.5"/><line x1="306.4" y1="556.3" x2="306.4" y2="573.6" stroke="#4fdce8" stroke-width="4.4"/><line x1="306.4" y1="573.6" x2="306.4" y2="591.0" stroke="#eaa040" stroke-width="4.4"/><line x1="306.4" y1="556.3" x2="306.4" y2="573.6" stroke="#a8fbff" stroke-width="1.5"/><line x1="306.4" y1="573.6" x2="306.4" y2="591.0" stroke="#ffd890" stroke-width="1.5"/><circle cx="-0.7" cy="241.5" r="6.9" fill="url(#cyanB)"/><circle cx="61.0" cy="241.5" r="6.9" fill="url(#cyanB)"/><circle cx="122.0" cy="241.5" r="6.9" fill="url(#cyanB)"/><circle cx="183.0" cy="241.5" r="6.9" fill="url(#cyanB)"/><circle cx="245.3" cy="241.5" r="6.9" fill="url(#cyanB)"/><circle cx="306.4" cy="241.5" r="6.9" fill="url(#cyanB)"/><circle cx="366.5" cy="241.5" r="6.9" fill="url(#cyanB)"/><circle cx="429.1" cy="241.5" r="6.9" fill="url(#cyanB)"/><circle cx="122.0" cy="276.4" r="7.3" fill="url(#orB)"/><circle cx="306.4" cy="276.4" r="7.3" fill="url(#orB)"/><circle cx="91.4" cy="292.5" r="6.9" fill="url(#cyanB)"/><circle cx="152.5" cy="292.5" r="6.9" fill="url(#cyanB)"/><circle cx="275.3" cy="292.5" r="6.9" fill="url(#cyanB)"/><circle cx="337.0" cy="292.5" r="6.9" fill="url(#cyanB)"/><circle cx="91.4" cy="326.8" r="7.3" fill="url(#orB)"/><circle cx="152.5" cy="326.8" r="7.3" fill="url(#orB)"/><circle cx="275.3" cy="326.8" r="7.3" fill="url(#orB)"/><circle cx="337.0" cy="326.8" r="7.3" fill="url(#orB)"/><circle cx="-0.7" cy="344.0" r="6.9" fill="url(#cyanB)"/><circle cx="61.0" cy="344.0" r="6.9" fill="url(#cyanB)"/><circle cx="122.0" cy="344.0" r="6.9" fill="url(#cyanB)"/><circle cx="183.0" cy="344.0" r="6.9" fill="url(#cyanB)"/><circle cx="245.3" cy="344.0" r="6.9" fill="url(#cyanB)"/><circle cx="306.4" cy="344.0" r="6.9" fill="url(#cyanB)"/><circle cx="366.5" cy="344.0" r="6.9" fill="url(#cyanB)"/><circle cx="429.1" cy="344.0" r="6.9" fill="url(#cyanB)"/><circle cx="-0.7" cy="379.0" r="7.3" fill="url(#orB)"/><circle cx="61.0" cy="379.0" r="7.3" fill="url(#orB)"/><circle cx="122.0" cy="379.0" r="7.3" fill="url(#orB)"/><circle cx="183.0" cy="379.0" r="7.3" fill="url(#orB)"/><circle cx="245.3" cy="379.0" r="7.3" fill="url(#orB)"/><circle cx="306.4" cy="379.0" r="7.3" fill="url(#orB)"/><circle cx="366.5" cy="379.0" r="7.3" fill="url(#orB)"/><circle cx="429.1" cy="379.0" r="7.3" fill="url(#orB)"/><circle cx="30.0" cy="397.0" r="6.9" fill="url(#cyanB)"/><circle cx="91.4" cy="397.0" r="6.9" fill="url(#cyanB)"/><circle cx="152.5" cy="397.0" r="6.9" fill="url(#cyanB)"/><circle cx="214.3" cy="397.0" r="6.9" fill="url(#cyanB)"/><circle cx="275.3" cy="397.0" r="6.9" fill="url(#cyanB)"/><circle cx="337.0" cy="397.0" r="6.9" fill="url(#cyanB)"/><circle cx="398.4" cy="397.0" r="6.9" fill="url(#cyanB)"/><circle cx="30.0" cy="435.7" r="7.3" fill="url(#orB)"/><circle cx="214.3" cy="435.7" r="7.3" fill="url(#orB)"/><circle cx="398.4" cy="435.7" r="7.3" fill="url(#orB)"/><circle cx="-0.7" cy="452.3" r="6.9" fill="url(#cyanB)"/><circle cx="61.0" cy="452.3" r="6.9" fill="url(#cyanB)"/><circle cx="183.0" cy="452.3" r="6.9" fill="url(#cyanB)"/><circle cx="245.3" cy="452.3" r="6.9" fill="url(#cyanB)"/><circle cx="366.5" cy="452.3" r="6.9" fill="url(#cyanB)"/><circle cx="429.1" cy="452.3" r="6.9" fill="url(#cyanB)"/><circle cx="-0.7" cy="486.0" r="7.3" fill="url(#orB)"/><circle cx="61.0" cy="486.0" r="7.3" fill="url(#orB)"/><circle cx="183.0" cy="486.0" r="7.3" fill="url(#orB)"/><circle cx="245.3" cy="486.0" r="7.3" fill="url(#orB)"/><circle cx="366.5" cy="486.0" r="7.3" fill="url(#orB)"/><circle cx="429.1" cy="486.0" r="7.3" fill="url(#orB)"/><circle cx="30.0" cy="503.3" r="6.9" fill="url(#cyanB)"/><circle cx="91.4" cy="503.3" r="6.9" fill="url(#cyanB)"/><circle cx="152.5" cy="503.3" r="6.9" fill="url(#cyanB)"/><circle cx="214.3" cy="503.3" r="6.9" fill="url(#cyanB)"/><circle cx="275.3" cy="503.3" r="6.9" fill="url(#cyanB)"/><circle cx="337.0" cy="503.3" r="6.9" fill="url(#cyanB)"/><circle cx="398.4" cy="503.3" r="6.9" fill="url(#cyanB)"/><circle cx="30.0" cy="538.5" r="7.3" fill="url(#orB)"/><circle cx="91.4" cy="538.5" r="7.3" fill="url(#orB)"/><circle cx="152.5" cy="538.5" r="7.3" fill="url(#orB)"/><circle cx="214.3" cy="538.5" r="7.3" fill="url(#orB)"/><circle cx="275.3" cy="538.5" r="7.3" fill="url(#orB)"/><circle cx="337.0" cy="538.5" r="7.3" fill="url(#orB)"/><circle cx="398.4" cy="538.5" r="7.3" fill="url(#orB)"/><circle cx="-0.7" cy="556.3" r="6.9" fill="url(#cyanB)"/><circle cx="61.0" cy="556.3" r="6.9" fill="url(#cyanB)"/><circle cx="122.0" cy="556.3" r="6.9" fill="url(#cyanB)"/><circle cx="183.0" cy="556.3" r="6.9" fill="url(#cyanB)"/><circle cx="245.3" cy="556.3" r="6.9" fill="url(#cyanB)"/><circle cx="306.4" cy="556.3" r="6.9" fill="url(#cyanB)"/><circle cx="366.5" cy="556.3" r="6.9" fill="url(#cyanB)"/><circle cx="429.1" cy="556.3" r="6.9" fill="url(#cyanB)"/><circle cx="122.0" cy="591.0" r="7.3" fill="url(#orB)"/><circle cx="306.4" cy="591.0" r="7.3" fill="url(#orB)"/></g>
<rect x="17" y="256.8" width="395" height="321.4" rx="50" fill="none" stroke="#00b050" stroke-width="6"/>
<g>
 <polygon points="148.5,368.5 208.5,346.6 271.1,365 266.3,431.5 214.6,468.8 156,438.3" fill="#f59b25"/>
 <polygon points="214.6,392 271.1,365 266.3,431.5 214.6,468.8" fill="#f3961f"/>
 <polygon points="148.5,368.5 208.5,346.6 271.1,365 244.4,377.7 208.5,365.4 176.5,379.4" fill="#f8ad42"/>
 <polygon points="176.5,379.4 208.5,365.4 244.4,377.7 244.4,419.7 214.6,441.7 176.5,424.7" fill="#a9a05f"/>
 <polygon points="176.5,379.4 208.5,365.4 244.4,377.7 244.4,384.8 209.8,373.2 176.5,386.5" fill="#000"/>
 <polygon points="185.8,389 207.8,379.8 235.8,388.3 234.9,419.7 212,432.4 185.8,421.4" fill="#a89a66" stroke="#e0663a" stroke-width="1.6"/>
 <polygon points="206.3,381.2 232.6,389.5 234,418.8 212.9,429.8 188.3,419.7 187.9,390.8" fill="#12934a"/>
 <polygon points="206.3,381.2 232.6,389.5 212.9,397.8 187.9,390.8" fill="#179a4e"/>
 <polyline points="187.9,390.8 212.9,397.8 232.6,389.5" fill="none" stroke="#7aa860" stroke-width="1"/>
 <line x1="212.9" y1="397.8" x2="212.9" y2="429.8" stroke="#7aa860" stroke-width="1"/>
</g>
<ellipse cx="227.8" cy="443.5" rx="30" ry="33" fill="none" stroke="#ff0000" stroke-width="5" stroke-dasharray="26 12" stroke-dashoffset="8"/>
<line x1="244.4" y1="410.3" x2="517" y2="77.5" stroke="#ff0000" stroke-width="5.5" stroke-dasharray="24 16"/>
<polygon points="526,67.5 508.5,75.8 521.7,86.1" fill="#ff0000"/>
<line x1="238.4" y1="473.4" x2="522" y2="791" stroke="#ff0000" stroke-width="5.5" stroke-dasharray="24 16"/>
<polygon points="530.3,800.3 513.7,793.7 526,783.5" fill="#ff0000"/>
<line x1="518" y1="90" x2="518" y2="778" stroke="#5b9bd5" stroke-width="5.5"/>
<line x1="504.5" y1="153.4" x2="518" y2="153.4" stroke="#5b9bd5" stroke-width="5"/>
<text x="472.9" y="162.4" font-family="Liberation Serif" font-weight="bold" font-size="36" fill="#000" >-2</text>
<line x1="504.5" y1="257.5" x2="518" y2="257.5" stroke="#5b9bd5" stroke-width="5"/>
<text x="474.7" y="267.3" font-family="Liberation Serif" font-weight="bold" font-size="36" fill="#000" >-1</text>
<line x1="504.5" y1="373.3" x2="518" y2="373.3" stroke="#5b9bd5" stroke-width="5"/>
<text x="486.1" y="384.2" font-family="Liberation Serif" font-weight="bold" font-size="36" fill="#000" >0</text>
<line x1="504.5" y1="485.8" x2="518" y2="485.8" stroke="#5b9bd5" stroke-width="5"/>
<text x="487.6" y="497.3" font-family="Liberation Serif" font-weight="bold" font-size="36" fill="#000" >1</text>
<line x1="504.5" y1="596.5" x2="518" y2="596.5" stroke="#5b9bd5" stroke-width="5"/>
<text x="484.8" y="608.0" font-family="Liberation Serif" font-weight="bold" font-size="36" fill="#000" >2</text>
<line x1="504.5" y1="702.7" x2="518" y2="702.7" stroke="#5b9bd5" stroke-width="5"/>
<text x="485.6" y="714.5" font-family="Liberation Serif" font-weight="bold" font-size="36" fill="#000" >3</text>
<line x1="509.5" y1="105.7" x2="518" y2="105.7" stroke="#5b9bd5" stroke-width="5"/>
<line x1="509.5" y1="206.8" x2="518" y2="206.8" stroke="#5b9bd5" stroke-width="5"/>
<line x1="509.5" y1="311.4" x2="518" y2="311.4" stroke="#5b9bd5" stroke-width="5"/>
<line x1="509.5" y1="429.3" x2="518" y2="429.3" stroke="#5b9bd5" stroke-width="5"/>
<line x1="509.5" y1="544.6" x2="518" y2="544.6" stroke="#5b9bd5" stroke-width="5"/>
<line x1="509.5" y1="652.7" x2="518" y2="652.7" stroke="#5b9bd5" stroke-width="5"/>
<line x1="509.5" y1="753.5" x2="518" y2="753.5" stroke="#5b9bd5" stroke-width="5"/>
<text x="0" y="0" font-family="Liberation Serif" font-weight="bold" font-size="36" text-anchor="middle" transform="translate(465,411.4) rotate(-90) scale(1,1.08)">Potential (eV) vs. RHE</text>
<ellipse cx="696.4" cy="326.6" rx="123.6" ry="234" fill="#ffc000"/>
<rect x="618" y="166.9" width="156.5" height="7.6" fill="#5b9bd5"/>
<rect x="616" y="481.6" width="156.6" height="7.4" fill="#5b9bd5"/>
<rect x="618.9" y="204" width="10.9" height="264" fill="#00b050"/>
<polygon points="613.1,204.6 624.4,193.2 635.7,204.6" fill="#00b050"/>
<rect x="658.1" y="178" width="13.8" height="53.5" fill="#ed7d31"/>
<polygon points="651.1,231 678.7,231 665.1,244.8" fill="#ed7d31"/>
<polygon points="728.6,191.8 736.6,175.8 745,191.8" fill="#ed7d31"/>
<rect x="733.7" y="191.5" width="5.8" height="18" fill="#ed7d31"/>
<rect x="733.7" y="227" width="5.8" height="22.6" fill="#ed7d31"/>
<line x1="642.6" y1="259.09999999999997" x2="770" y2="259.09999999999997" stroke="#ff0000" stroke-width="5.4" stroke-dasharray="23 17.3"/>
<line x1="642.6" y1="268.2" x2="770" y2="268.2" stroke="#ff0000" stroke-width="5.4" stroke-dasharray="23 17.3"/>
<g filter="url(#sh)"><ellipse cx="647" cy="143.6" rx="17" ry="17" fill="url(#redB)"/></g><text x="647" y="156.3" font-family="Liberation Sans" font-size="34.5" fill="#fff" stroke="#fff" stroke-width="0.5" text-anchor="middle">e</text>
<g filter="url(#sh)"><ellipse cx="689.9" cy="143.6" rx="17" ry="17" fill="url(#redB)"/></g><text x="689.9" y="156.3" font-family="Liberation Sans" font-size="34.5" fill="#fff" stroke="#fff" stroke-width="0.5" text-anchor="middle">e</text>
<g filter="url(#sh)"><ellipse cx="736.9" cy="143.6" rx="17" ry="17" fill="url(#redB)"/></g><text x="736.9" y="156.3" font-family="Liberation Sans" font-size="34.5" fill="#fff" stroke="#fff" stroke-width="0.5" text-anchor="middle">e</text>
<g filter="url(#sh)"><ellipse cx="666.6" cy="263.6" rx="14.3" ry="14.3" fill="url(#bluB)"/></g><text x="666.6" y="275.8" font-family="Liberation Sans" font-size="34.5" fill="#fff" stroke="#fff" stroke-width="0.5" text-anchor="middle">e</text>
<g filter="url(#sh)"><ellipse cx="716.1" cy="249.2" rx="14.3" ry="14.3" fill="url(#bluB)"/></g><text x="716.1" y="261.4" font-family="Liberation Sans" font-size="34.5" fill="#fff" stroke="#fff" stroke-width="0.5" text-anchor="middle">e</text>
<g filter="url(#sh)"><ellipse cx="646.9" cy="510.1" rx="16" ry="16" fill="url(#grnB)"/></g><text x="646.9" y="521.8" font-family="Liberation Sans" font-size="33" fill="#fff" stroke="#fff" stroke-width="0.5" text-anchor="middle">h</text>
<g filter="url(#sh)"><ellipse cx="694.5" cy="509.5" rx="16" ry="16" fill="url(#grnB)"/></g><text x="694.5" y="521.2" font-family="Liberation Sans" font-size="33" fill="#fff" stroke="#fff" stroke-width="0.5" text-anchor="middle">h</text>
<g filter="url(#sh)"><ellipse cx="743.2" cy="511.3" rx="16" ry="16" fill="url(#grnB)"/></g><text x="743.2" y="523.0" font-family="Liberation Sans" font-size="33" fill="#fff" stroke="#fff" stroke-width="0.5" text-anchor="middle">h</text>
<text x="541.3" y="181.0" font-family="Liberation Serif" font-weight="bold" font-size="35.8" fill="#000" >CB</text>
<text x="544.1" y="496.6" font-family="Liberation Serif" font-weight="bold" font-size="35.5" fill="#000" >VB</text>
<text x="659.7" y="313.5" font-family="Liberation Serif" font-weight="bold" font-size="28.2" fill="#000" >Defects</text>
<text x="667.1" y="346.6" font-family="Liberation Serif" font-weight="bold" font-size="28.3" fill="#000" >States</text>
<text x="0" y="0" font-family="Liberation Serif" font-weight="bold" font-size="35" transform="translate(610.2,373.3) rotate(-90) scale(1,1.05)">2.70 eV</text>
<path d="M772.6,150 C812,151 832,185 832,220 C833,252 850,268 874,272.5" fill="none" stroke="#ff9c9c" stroke-width="4"/>
<polygon points="889.4,276.2 875.2,265.6 872.3,281" fill="#ff9c9c"/>
<ellipse cx="973.1" cy="507.9" rx="133.5" ry="284.7" fill="#ccccff"/>
<rect x="889" y="360.5" width="169" height="8" fill="#ed7d31"/>
<rect x="891.6" y="706" width="167" height="8" fill="#ed7d31"/>
<rect x="901.1" y="396.5" width="11.9" height="297.8" fill="#00b050"/>
<polygon points="895.3,396.8 906.9,384.8 918.5,396.8" fill="#00b050"/>
<text x="825.0" y="375.3" font-family="Liberation Serif" font-weight="bold" font-size="36.3" fill="#000" >CB</text>
<text x="832.4" y="719.1" font-family="Liberation Serif" font-weight="bold" font-size="35" fill="#000" >VB</text>
<text x="0" y="0" font-family="Liberation Serif" font-weight="bold" font-size="36" transform="translate(952.6,583.3) rotate(-90) scale(1,1.1)">3.15 eV</text>
<g filter="url(#sh)"><ellipse cx="908.9" cy="286.4" rx="14.3" ry="15.8" fill="url(#redB)"/></g><text x="908.9" y="298.6" font-family="Liberation Sans" font-size="34.5" fill="#fff" stroke="#fff" stroke-width="0.5" text-anchor="middle">e</text>
<g filter="url(#sh)"><ellipse cx="1025.5" cy="286.8" rx="20.8" ry="23.3" fill="url(#redB)"/></g><text x="1025.5" y="300.7" font-family="Liberation Sans" font-size="34.5" fill="#fff" stroke="#fff" stroke-width="0.5" text-anchor="middle">e</text>
<g filter="url(#sh)"><ellipse cx="937.9" cy="330.4" rx="17" ry="17.3" fill="url(#redB)"/></g><text x="937.9" y="341.8" font-family="Liberation Sans" font-size="34.5" fill="#fff" stroke="#fff" stroke-width="0.5" text-anchor="middle">e</text>
<g filter="url(#sh)"><ellipse cx="993.5" cy="325.8" rx="19.5" ry="19.6" fill="url(#redB)"/></g><text x="993.5" y="338.7" font-family="Liberation Sans" font-size="34.5" fill="#fff" stroke="#fff" stroke-width="0.5" text-anchor="middle">e</text>
<g filter="url(#sh)"><ellipse cx="1051.4" cy="330.4" rx="16.6" ry="17.3" fill="url(#redB)"/></g><text x="1051.4" y="343.4" font-family="Liberation Sans" font-size="34.5" fill="#fff" stroke="#fff" stroke-width="0.5" text-anchor="middle">e</text>
<g filter="url(#sh)"><ellipse cx="925.3" cy="736.8" rx="16.3" ry="16.3" fill="url(#grnB)"/></g><text x="925.3" y="748.5" font-family="Liberation Sans" font-size="33" fill="#fff" stroke="#fff" stroke-width="0.5" text-anchor="middle">h</text>
<g filter="url(#sh)"><ellipse cx="972.6" cy="736.8" rx="16.3" ry="16.3" fill="url(#grnB)"/></g><text x="972.6" y="748.5" font-family="Liberation Sans" font-size="33" fill="#fff" stroke="#fff" stroke-width="0.5" text-anchor="middle">h</text>
<g filter="url(#sh)"><ellipse cx="1020.5" cy="736.8" rx="16.3" ry="16.3" fill="url(#grnB)"/></g><text x="1020.5" y="748.5" font-family="Liberation Sans" font-size="33" fill="#fff" stroke="#fff" stroke-width="0.5" text-anchor="middle">h</text>
<path d="M1010.3,203.9 L1028.1,203.9 C1028.5,238 1043,263 1065.4,273.6 C1034,277 1010.5,250 1010.3,203.9 Z" fill="#2f5597"/>
<path d="M1065.4,274.8 C1095,274 1116,250 1119.3,221.5 L1128.4,221.5 L1112,203.9 L1093.3,221.5 L1104.2,221.5 C1101,245 1088,265 1065.4,273.6 Z" fill="#4472c4"/>
<path d="M1077.9,129.3 C1079.6,132.4 1084.5,142.2 1088.2,148.1 C1091.9,154.0 1096.3,160.6 1100.3,165.0 C1104.3,169.4 1108.0,172.2 1112.4,174.7 C1116.8,177.2 1121.9,180.2 1126.9,180.2 C1131.9,180.1 1140.0,175.4 1142.6,174.4 L1140.8,174.1 C1138.3,173.0 1130.4,170.5 1125.7,167.4 C1121.0,164.3 1116.4,159.7 1112.4,155.3 C1108.4,150.9 1104.7,146.1 1101.5,140.8 C1098.3,135.5 1094.4,126.5 1093.0,123.6 Z" fill="#c800c8"/>
<path d="M1142.6,174.7 C1144.2,174.1 1149.5,173.3 1152.3,171.1 C1155.1,168.9 1157.6,165.8 1159.5,161.4 C1161.4,157.0 1163.2,150.3 1163.8,144.5 C1164.4,138.7 1163.8,131.3 1163.2,126.3 C1162.6,121.2 1160.7,116.2 1160.2,114.2 L1167.4,111.8 L1147.4,102.1 L1137.2,123.3 L1145.6,122.1 C1145.9,123.4 1147.0,126.3 1147.4,130.0 C1147.8,133.7 1148.2,139.1 1148.0,144.5 C1147.8,149.9 1147.4,157.7 1146.2,162.6 C1145.0,167.5 1141.7,172.2 1140.8,174.1 Z" fill="#ff00ff"/>
<path d="M1238.2,41.0 C1236.3,42.7 1230.0,47.6 1226.8,51.3 C1223.6,55.0 1221.1,58.8 1219.2,63.3 C1217.3,67.8 1215.8,73.7 1215.4,78.6 C1215.0,83.5 1215.7,88.7 1217.0,92.7 C1218.3,96.7 1222.0,100.9 1223.0,102.6 L1224.6,101.5 C1224.2,100.2 1222.8,96.7 1222.4,93.8 C1222.0,90.9 1221.7,87.6 1222.4,84.0 C1223.1,80.4 1224.6,76.0 1226.8,72.0 C1229.0,68.0 1232.4,63.7 1235.5,60.1 C1238.6,56.5 1243.7,51.9 1245.3,50.3 Z" fill="#c800c8"/>
<path d="M1223.0,102.6 C1224.3,104.2 1228.1,110.0 1231.1,112.4 C1234.1,114.9 1237.3,116.3 1241.0,117.3 C1244.7,118.3 1248.8,118.6 1253.0,118.4 C1257.2,118.2 1261.7,117.3 1266.0,116.2 C1270.3,115.1 1276.9,112.5 1279.1,111.8 L1280.2,117.8 L1284.0,102.0 L1266.6,98.7 L1269.8,103.6 C1268.1,104.2 1263.0,106.6 1259.5,107.5 C1256.0,108.4 1252.2,109.0 1248.6,109.1 C1245.0,109.2 1241.0,108.7 1237.7,108.0 C1234.4,107.3 1231.2,105.8 1229.0,104.7 C1226.8,103.6 1225.3,102.0 1224.6,101.5 Z" fill="#ff00ff"/>
<path d="M1199.4,170.4 C1197.6,172.5 1191.6,178.3 1188.5,182.9 C1185.4,187.5 1182.4,192.8 1180.9,198.1 C1179.4,203.4 1178.9,209.8 1179.3,214.5 C1179.7,219.2 1181.5,223.4 1183.1,226.5 C1184.7,229.6 1188.1,231.9 1189.1,233.0 L1191.2,233.0 C1190.9,232.1 1190.0,230.3 1189.6,227.6 C1189.1,224.9 1188.2,220.5 1188.5,216.7 C1188.8,212.9 1189.6,208.9 1191.2,204.7 C1192.8,200.5 1195.5,195.8 1198.3,191.6 C1201.1,187.4 1206.5,181.4 1208.1,179.4 Z" fill="#c800c8"/>
<path d="M1189.1,233.0 C1190.6,234.3 1194.8,238.8 1198.3,240.6 C1201.8,242.4 1206.3,243.6 1210.3,243.9 C1214.3,244.2 1218.1,243.4 1222.3,242.3 C1226.5,241.2 1231.6,239.0 1235.4,237.4 C1239.2,235.8 1243.6,233.3 1245.2,232.5 L1247.9,235.2 L1248.4,218.3 L1229.9,217.2 L1233.7,222.6 C1231.8,223.7 1226.2,227.4 1222.3,229.2 C1218.4,231.0 1214.3,232.7 1210.3,233.5 C1206.3,234.3 1201.5,234.2 1198.3,234.1 C1195.1,234.0 1192.4,233.2 1191.2,233.0 Z" fill="#ff00ff"/>
<path d="M1089.6,309.2 C1088.4,311.5 1084.5,317.8 1082.7,323.0 C1080.9,328.2 1079.4,334.6 1079.0,340.3 C1078.6,346.1 1079.0,352.5 1080.4,357.5 C1081.8,362.5 1084.4,367.0 1087.3,370.2 C1090.2,373.4 1095.9,375.4 1097.6,376.5 L1097.6,376.0 C1096.8,374.1 1094.2,368.2 1093.0,364.4 C1091.8,360.5 1091.1,356.9 1090.7,352.9 C1090.3,348.9 1090.1,344.5 1090.7,340.3 C1091.3,336.1 1092.6,331.6 1094.2,327.6 C1095.8,323.6 1099.1,318.0 1100.1,316.1 Z" fill="#00cc00"/>
<path d="M1097.6,376.5 C1099.3,377.6 1104.0,381.4 1108.0,382.9 C1112.0,384.3 1117.4,385.3 1121.8,385.2 C1126.2,385.1 1130.0,383.8 1134.4,382.3 C1138.8,380.8 1144.5,378.2 1148.3,376.0 C1152.1,373.8 1156.0,370.2 1157.5,369.0 L1162.1,371.9 L1159.8,355.2 L1141.3,358.7 L1145.4,362.1 C1143.6,363.5 1138.3,367.9 1134.4,370.2 C1130.5,372.5 1126.0,374.9 1121.8,376.0 C1117.6,377.1 1113.1,377.1 1109.1,377.1 C1105.1,377.1 1099.5,376.2 1097.6,376.0 Z" fill="#00ff00"/>
<g filter="url(#sh)"><ellipse cx="1103.4" cy="357.5" rx="12.1" ry="12.6" fill="url(#redB)"/></g><text x="1103.4" y="371.4" font-family="Liberation Sans" font-size="34.5" fill="#fff" stroke="#fff" stroke-width="0.5" text-anchor="middle">e</text>
<g filter="url(#sh)"><ellipse cx="1124.2" cy="302.3" rx="19.3" ry="19.3" fill="url(#whtB)"/></g>
<circle cx="1124.2" cy="302.3" r="18.8" fill="none" stroke="#9a9a9a" stroke-width="1.2"/>
<path d="M1187.2,469.1 C1186.3,471.2 1183.2,476.9 1181.8,481.8 C1180.4,486.8 1179.0,493.1 1178.8,498.8 C1178.6,504.5 1179.1,510.5 1180.6,515.7 C1182.1,520.9 1184.7,526.4 1187.9,530.2 C1191.1,534.0 1198.0,537.3 1200.0,538.7 L1201.2,537.5 C1200.4,536.3 1197.9,533.6 1196.3,530.2 C1194.7,526.8 1192.5,521.5 1191.5,516.9 C1190.5,512.3 1190.0,507.2 1190.3,502.4 C1190.6,497.6 1191.9,492.4 1193.3,487.9 C1194.7,483.3 1197.9,477.2 1198.8,475.1 Z" fill="#00cc00"/>
<path d="M1200.0,538.7 C1201.8,539.7 1206.9,543.5 1210.9,544.8 C1214.9,546.1 1219.6,546.8 1224.2,546.6 C1228.8,546.4 1234.1,545.5 1238.7,543.6 C1243.3,541.7 1248.0,538.0 1252.0,535.1 C1256.0,532.2 1261.1,527.5 1262.9,526.0 L1267.8,529.0 L1264.1,511.5 L1244.8,516.3 L1249.6,519.3 C1247.6,520.9 1241.7,526.2 1237.5,529.0 C1233.3,531.8 1228.6,534.6 1224.2,536.3 C1219.8,538.0 1214.7,539.0 1210.9,539.3 C1207.1,539.6 1202.8,538.3 1201.2,538.1 Z" fill="#00ff00"/>
<g filter="url(#sh)"><ellipse cx="1177" cy="533" rx="15.7" ry="16.5" fill="url(#redB)"/></g><text x="1177" y="546.4" font-family="Liberation Sans" font-size="34.5" fill="#fff" stroke="#fff" stroke-width="0.5" text-anchor="middle">e</text>
<path d="M1343.1,434.9 C1345.0,433.2 1350.3,427.6 1354.7,424.7 C1359.1,421.8 1364.1,419.0 1369.2,417.4 C1374.3,415.8 1380.1,415.3 1385.2,415.3 C1390.3,415.3 1394.9,415.8 1399.7,417.4 C1404.5,419.0 1410.4,422.4 1414.3,424.7 C1418.2,427.0 1421.5,430.1 1423.0,431.2 L1420.1,431.2 C1417.9,430.4 1411.6,427.4 1407.0,426.2 C1402.4,425.0 1397.3,424.0 1392.5,424.0 C1387.7,424.0 1382.8,424.6 1377.9,426.2 C1373.1,427.8 1367.6,430.5 1363.4,433.4 C1359.2,436.3 1354.3,441.9 1352.5,443.6 Z" fill="#50c850"/>
<path d="M1423.0,431.2 C1424.7,433.3 1430.3,439.1 1433.2,443.6 C1436.1,448.1 1438.8,453.3 1440.4,458.1 C1442.0,462.9 1442.5,467.8 1442.6,472.6 C1442.7,477.5 1441.8,482.6 1441.1,487.2 C1440.4,491.8 1438.7,498.0 1438.2,500.2 L1439.7,502.4 L1421.5,505.3 L1420.1,485.7 L1426.6,492.3 C1427.2,490.0 1429.6,483.5 1430.2,478.5 C1430.8,473.5 1430.8,467.6 1430.2,462.5 C1429.6,457.4 1428.3,452.6 1426.6,448.0 C1424.9,443.4 1421.2,437.1 1420.1,434.9 Z" fill="#66ff66"/>
<g filter="url(#sh)"><ellipse cx="1406.3" cy="447.9" rx="20.3" ry="20.3" fill="url(#whtB)"/></g>
<circle cx="1406.3" cy="447.9" r="19.8" fill="none" stroke="#9a9a9a" stroke-width="1.2"/>
<path d="M1387.1,608.2 C1387.6,610.8 1389.7,618.5 1390.2,623.9 C1390.7,629.3 1390.9,635.6 1390.2,640.8 C1389.5,646.0 1387.8,651.3 1385.9,655.3 C1384.0,659.3 1381.9,662.6 1378.7,665.0 C1375.5,667.4 1368.6,669.1 1366.6,669.9 L1366.6,669.3 C1367.6,667.4 1370.9,662.3 1372.6,657.8 C1374.3,653.2 1376.0,647.2 1376.8,642.0 C1377.6,636.8 1377.7,631.3 1377.4,626.3 C1377.1,621.3 1375.4,614.2 1375.0,611.8 Z" fill="#50c850"/>
<path d="M1366.6,669.9 C1364.8,670.3 1359.3,672.7 1355.7,672.3 C1352.1,671.9 1348.4,669.8 1344.8,667.4 C1341.2,665.0 1337.3,662.0 1333.9,657.8 C1330.5,653.6 1325.8,644.6 1324.2,642.0 L1317.5,642.0 L1325.4,626.3 L1341.7,634.8 L1336.3,637.8 C1337.7,639.9 1341.8,646.6 1344.8,650.5 C1347.8,654.4 1350.9,658.3 1354.5,661.4 C1358.1,664.5 1364.6,668.0 1366.6,669.3 Z" fill="#66ff66"/>
<path d="M631.9,607.5 C633.2,605.2 636.7,598.5 640.0,593.7 C643.3,588.9 647.3,583.0 651.5,578.8 C655.7,574.6 660.5,571.2 665.3,568.4 C670.1,565.6 675.4,563.4 680.2,562.1 C685.0,560.9 690.5,560.6 694.0,560.9 C697.5,561.2 699.8,563.3 700.9,563.8 L700.9,563.8 C698.4,564.4 690.6,565.4 686.0,567.3 C681.4,569.2 677.3,572.2 673.3,575.3 C669.3,578.4 665.2,581.9 661.8,585.7 C658.3,589.5 655.2,594.0 652.6,598.3 C650.0,602.6 647.3,609.4 646.3,611.6 Z" fill="#2f5597"/>
<path d="M698.6,561.5 C700.9,562.6 707.8,565.1 712.4,568.4 C717.0,571.7 722.4,576.5 726.2,581.1 C730.0,585.7 733.3,591.2 735.4,596.0 C737.5,600.8 738.3,605.0 738.9,609.8 C739.5,614.6 738.9,622.3 738.9,624.8 L745.8,626.5 L728.5,636.9 L716.5,617.9 L723.9,620.2 C723.9,618.1 724.5,611.9 723.9,607.5 C723.3,603.1 722.2,598.5 720.5,593.7 C718.8,588.9 716.1,583.0 713.6,578.8 C711.1,574.6 708.0,571.1 705.5,568.4 C703.0,565.7 699.8,563.7 698.6,562.7 Z" fill="#4472c4"/>
<text x="641.5" y="461.6" font-family="Liberation Serif" font-weight="bold" font-size="41.5" fill="#ff0000" >g-C</text>
<text x="703.4" y="469.5" font-family="Liberation Serif" font-weight="bold" font-size="26.8" fill="#ff0000" >3</text>
<text x="717.0" y="461.9" font-family="Liberation Serif" font-weight="bold" font-size="41.5" fill="#ff0000" >N</text>
<text x="746.6" y="469.7" font-family="Liberation Serif" font-weight="bold" font-size="26.8" fill="#ff0000" >4</text>
<text x="916.3" y="688.5" font-family="Liberation Serif" font-weight="bold" font-size="40.7" fill="#ff0000" >ZnSnO</text>
<text x="1041.1" y="696.5" font-family="Liberation Serif" font-weight="bold" font-size="26.5" fill="#ff0000" >3</text>
<text x="590.9" y="635.2" font-family="Liberation Serif" font-weight="bold" font-size="31.4" fill="#000" >TEOA</text>
<path d="M685.6,654.2 A18.8,18.8 0 0 1 719.6,647.0 A11.6,11.6 0 0 1 740.8,650.4 A11.0,11.0 0 0 1 759.0,659.5 A14.9,14.9 0 0 1 779.0,678.4 A14.4,14.4 0 0 1 775.6,704.9 A17.3,17.3 0 0 1 752.9,727.6 A16.6,16.6 0 0 1 723.4,736.0 A18.7,18.7 0 0 1 689.7,728.4 A15.9,15.9 0 0 1 668.5,708.0 A14.2,14.2 0 0 1 671.2,681.8 A16.8,16.8 0 0 1 685.6,654.2 Z" fill="#fffef6"/>
<g filter="url(#glowPk)"><path d="M685.6,654.2 A18.8,18.8 0 0 1 719.6,647.0 A11.6,11.6 0 0 1 740.8,650.4 A11.0,11.0 0 0 1 759.0,659.5 A14.9,14.9 0 0 1 779.0,678.4 A14.4,14.4 0 0 1 775.6,704.9 A17.3,17.3 0 0 1 752.9,727.6 A16.6,16.6 0 0 1 723.4,736.0 A18.7,18.7 0 0 1 689.7,728.4 A15.9,15.9 0 0 1 668.5,708.0 A14.2,14.2 0 0 1 671.2,681.8 A16.8,16.8 0 0 1 685.6,654.2 Z" fill="none" stroke="#7030a0" stroke-width="4.2"/></g>
<path d="M685.3,658.1 L685.4,655.9 L685.7,653.8 L686.2,651.7 L687.0,649.7 L688.1,647.7 L689.3,645.9 L690.7,644.3 L692.4,642.9 L694.1,641.6 L696.1,640.6 L698.1,639.7 L700.2,639.2 L702.3,638.8 L704.5,638.8 L706.7,638.9 L708.8,639.4 L710.9,640.0 L712.9,641.0 L714.7,642.1 L716.4,643.4 L718.0,645.0 L719.4,646.6 L720.5,648.5 L721.5,650.5 M718.6,649.2 L719.1,647.9 L719.7,646.8 L720.5,645.7 L721.4,644.7 L722.5,643.8 L723.6,643.1 L724.8,642.4 L726.0,642.0 L727.3,641.6 L728.7,641.5 L730.0,641.4 L731.3,641.6 L732.7,641.9 L733.9,642.3 L735.1,642.9 L736.3,643.6 L737.3,644.5 L738.3,645.4 L739.1,646.5 L739.8,647.6 L740.3,648.9 L740.7,650.1 L741.0,651.5 L741.1,652.8 M739.2,652.1 L740.1,651.1 L741.0,650.2 L742.0,649.5 L743.1,648.8 L744.3,648.3 L745.5,648.0 L746.8,647.7 L748.0,647.7 L749.3,647.7 L750.6,648.0 L751.8,648.3 L753.0,648.8 L754.1,649.5 L755.1,650.2 L756.0,651.1 L756.8,652.1 L757.5,653.1 L758.1,654.3 L758.6,655.5 L758.9,656.7 L759.0,658.0 L759.0,659.3 L758.9,660.5 L758.6,661.8 M756.3,661.1 L757.8,660.1 L759.3,659.4 L760.9,658.8 L762.6,658.4 L764.3,658.2 L766.0,658.2 L767.8,658.4 L769.4,658.8 L771.1,659.4 L772.6,660.2 L774.0,661.1 L775.4,662.2 L776.5,663.5 L777.6,664.9 L778.4,666.4 L779.1,667.9 L779.6,669.6 L779.9,671.3 L780.0,673.0 L779.9,674.7 L779.6,676.4 L779.1,678.1 L778.4,679.7 L777.6,681.2 M776.2,677.2 L777.8,677.8 L779.3,678.6 L780.7,679.5 L781.9,680.6 L783.1,681.8 L784.1,683.2 L784.9,684.6 L785.5,686.2 L786.0,687.8 L786.2,689.5 L786.3,691.1 L786.2,692.8 L785.9,694.4 L785.4,696.0 L784.7,697.6 L783.9,699.0 L782.9,700.3 L781.7,701.5 L780.4,702.6 L779.0,703.5 L777.5,704.3 L775.9,704.8 L774.3,705.2 L772.6,705.4 M773.9,701.7 L774.9,703.4 L775.7,705.3 L776.4,707.2 L776.8,709.1 L776.9,711.1 L776.9,713.2 L776.6,715.1 L776.1,717.1 L775.3,719.0 L774.4,720.7 L773.2,722.4 L771.9,723.9 L770.4,725.2 L768.7,726.4 L767.0,727.3 L765.1,728.1 L763.1,728.6 L761.2,728.9 L759.1,728.9 L757.1,728.8 L755.2,728.4 L753.3,727.7 L751.4,726.9 L749.7,725.9 M752.9,724.1 L753.0,726.1 L752.9,728.0 L752.5,729.9 L751.9,731.7 L751.1,733.4 L750.1,735.1 L749.0,736.6 L747.6,738.0 L746.1,739.2 L744.5,740.2 L742.8,741.1 L741.0,741.7 L739.1,742.1 L737.2,742.3 L735.3,742.3 L733.4,742.1 L731.5,741.6 L729.7,740.9 L728.0,740.0 L726.4,739.0 L724.9,737.7 L723.6,736.3 L722.5,734.7 L721.6,733.1 M725.3,732.6 L724.3,734.5 L723.2,736.3 L721.8,738.0 L720.2,739.5 L718.5,740.8 L716.6,741.9 L714.6,742.8 L712.6,743.4 L710.5,743.8 L708.3,744.0 L706.1,743.9 L704.0,743.5 L701.9,742.9 L699.9,742.1 L698.0,741.0 L696.3,739.8 L694.7,738.3 L693.3,736.7 L692.1,734.9 L691.1,732.9 L690.3,730.9 L689.8,728.8 L689.5,726.7 L689.5,724.5 M692.6,726.7 L691.0,727.7 L689.4,728.5 L687.6,729.2 L685.8,729.6 L684.0,729.7 L682.2,729.7 L680.3,729.5 L678.5,729.0 L676.8,728.4 L675.2,727.6 L673.6,726.5 L672.2,725.3 L671.0,724.0 L669.9,722.5 L669.0,720.9 L668.3,719.2 L667.8,717.4 L667.5,715.6 L667.4,713.8 L667.5,711.9 L667.8,710.1 L668.4,708.3 L669.1,706.6 L670.0,705.1 M671.3,709.1 L669.7,708.6 L668.2,707.8 L666.8,707.0 L665.6,705.9 L664.4,704.7 L663.4,703.4 L662.6,702.0 L661.9,700.5 L661.4,698.9 L661.1,697.3 L661.0,695.6 L661.0,694.0 L661.3,692.4 L661.8,690.8 L662.4,689.3 L663.2,687.8 L664.2,686.5 L665.3,685.3 L666.5,684.2 L667.9,683.2 L669.3,682.5 L670.9,681.9 L672.5,681.5 L674.1,681.3 M673.7,684.2 L672.3,682.9 L671.0,681.5 L669.8,679.9 L668.9,678.2 L668.1,676.4 L667.6,674.5 L667.3,672.6 L667.2,670.7 L667.4,668.7 L667.7,666.8 L668.3,664.9 L669.1,663.2 L670.1,661.5 L671.3,659.9 L672.7,658.5 L674.2,657.3 L675.8,656.3 L677.6,655.4 L679.4,654.8 L681.3,654.3 L683.3,654.1 L685.2,654.2 L687.2,654.4 L689.0,654.9 " fill="none" stroke="#7030a0" stroke-width="4.2" stroke-linecap="butt"/>
<path d="M750,712 A14,14 0 0 1 752.5,727" fill="none" stroke="#7030a0" stroke-width="4.2"/>
<text x="672.5" y="695.5" font-family="Liberation Serif" font-weight="bold" font-size="31.6" fill="#000" >TEOA</text>
<rect x="763" y="679.7" width="10.8" height="1.5" fill="#000"/><rect x="767.7" y="675.4" width="1.5" height="10" fill="#000"/>
<text x="965.6" y="194.3" font-family="Liberation Serif" font-weight="bold" font-size="37" fill="#000" >O</text>
<text x="993.3" y="202.4" font-family="Liberation Serif" font-weight="bold" font-size="24.8" fill="#000" >2</text>
<circle cx="1118" cy="193.3" r="5.3" fill="#000"/>
<text x="0" y="0" font-family="Liberation Serif" font-weight="bold" font-size="36.5" transform="translate(1133.8,202.8) scale(0.87,1)">O</text>
<text x="1159.6" y="211.7" font-family="Liberation Serif" font-weight="bold" font-size="27" fill="#000" >2</text>
<rect x="1161.3" y="180.6" width="15.7" height="2.2" fill="#000"/>
<text x="1039.3" y="116.7" font-family="Liberation Serif" font-weight="bold" font-size="36.5" fill="#000" >H</text>
<text x="1066.7" y="124.0" font-family="Liberation Serif" font-weight="bold" font-size="24.5" fill="#000" >2</text>
<text x="1079.0" y="116.8" font-family="Liberation Serif" font-weight="bold" font-size="37.5" fill="#000" >O</text>
<text x="1143.9" y="96.1" font-family="Liberation Serif" font-weight="bold" font-size="36.5" fill="#000" >•OH</text>
<text x="1246.6" y="46.2" font-family="Liberation Serif" font-weight="bold" font-size="35.3" fill="#000" >MB</text>
<text x="1292.3" y="114.2" font-family="Liberation Serif" font-weight="bold" font-size="35.4" fill="#000" >Products</text>
<text x="1212.3" y="180.9" font-family="Liberation Serif" font-weight="bold" font-size="36" fill="#000" >TC</text>
<text x="1255.4" y="234.4" font-family="Liberation Serif" font-weight="bold" font-size="35.7" fill="#000" >Products</text>
<text x="1113.2" y="316.1" font-family="Liberation Serif" font-weight="bold" font-size="31" fill="#2b60ff" >H</text>
<rect x="1139.4" y="299.5" width="10" height="1.8" fill="#2b60ff"/><rect x="1143.5" y="295.4" width="1.8" height="10" fill="#2b60ff"/>
<rect x="1179.8" y="284.2" width="71.2" height="82.9" rx="11" fill="none" stroke="#7f6000" stroke-width="4.3" stroke-dasharray="12 6.5" stroke-dashoffset="-4"/>
<g filter="url(#sh)"><circle cx="1203.4" cy="305.9" r="16.4" fill="url(#h2B)"/><circle cx="1221.6" cy="305.9" r="16.4" fill="url(#h2B)"/></g>
<g filter="url(#sh)"><circle cx="1203.4" cy="344.9" r="16.4" fill="url(#h2B)"/><circle cx="1223.2" cy="344.9" r="16.4" fill="url(#h2B)"/></g>
<text x="1203.1" y="317.6" font-family="Liberation Serif" font-weight="bold" font-size="30" fill="#ffffff" >H</text>
<text x="1226.6" y="323.3" font-family="Liberation Serif" font-weight="bold" font-size="19" fill="#ffffff" >2</text>
<text x="1204.7" y="356.6" font-family="Liberation Serif" font-weight="bold" font-size="30" fill="#ffffff" >H</text>
<text x="1228.8" y="361.7" font-family="Liberation Serif" font-weight="bold" font-size="19" fill="#ffffff" >2</text>
<text x="1170.5" y="424.4" font-family="Liberation Serif" font-weight="bold" font-size="32" fill="#000" >CO</text>
<text x="1218.2" y="431.1" font-family="Liberation Serif" font-weight="bold" font-size="21" fill="#000" >2</text>
<g filter="url(#sh)"><ellipse cx="1181" cy="447" rx="12.5" ry="13" fill="url(#orS)"/><ellipse cx="1211" cy="447" rx="12.5" ry="13" fill="url(#orS)"/><ellipse cx="1196.1" cy="446.5" rx="16.6" ry="17.5" fill="url(#whtB)"/></g>
<polygon points="1315.2,422.5 1317.0,450.6 1340.4,439.2 1336.1,456.2 1369.4,455.1 1341.1,473.9 1370.1,479.6 1344.6,484.5 1368.0,508.6 1335.4,495.2 1334.0,507.2 1322.7,501.5 1319.8,527.7 1309.2,501.4 1298.2,515.0 1295.6,496.4 1280.4,504.8 1280.8,491.7 1267.2,495.1 1270.2,484.1 1243.9,485.8 1259.2,473.5 1247.1,456.9 1265.2,458.3 1261.2,434.3 1281.9,450.0 1284.1,424.2 1301.8,441.9" fill="#fffef8"/>
<g filter="url(#glowR)"><polygon points="1315.2,422.5 1317.0,450.6 1340.4,439.2 1336.1,456.2 1369.4,455.1 1341.1,473.9 1370.1,479.6 1344.6,484.5 1368.0,508.6 1335.4,495.2 1334.0,507.2 1322.7,501.5 1319.8,527.7 1309.2,501.4 1298.2,515.0 1295.6,496.4 1280.4,504.8 1280.8,491.7 1267.2,495.1 1270.2,484.1 1243.9,485.8 1259.2,473.5 1247.1,456.9 1265.2,458.3 1261.2,434.3 1281.9,450.0 1284.1,424.2 1301.8,441.9" fill="none" stroke="#d13a00" stroke-width="3.8" stroke-linejoin="miter"/></g>
<circle cx="1270.9" cy="471.8" r="4.8" fill="#000"/>
<text x="0" y="0" font-family="Liberation Serif" font-weight="bold" font-size="31.6" transform="translate(1285.6,480.9) scale(0.87,1)">CO</text>
<text x="1327.0" y="488.6" font-family="Liberation Serif" font-weight="bold" font-size="22" fill="#000" >2</text>
<rect x="1328.5" y="461.2" width="12.8" height="1.9" fill="#000"/>
<text x="1398.0" y="461.4" font-family="Liberation Serif" font-weight="bold" font-size="31" fill="#2b60ff" >H</text>
<path d="M1357.8,532.9 A9.1,9.1 0 0 1 1371.8,523.5 A10.1,10.1 0 0 1 1387.1,512.8 A14.5,14.5 0 0 1 1413.5,508.2 A12.4,12.4 0 0 1 1426.1,527.3 A12.2,12.2 0 0 1 1429.5,549.7 A14.3,14.3 0 0 1 1417.0,573.0 A17.6,17.6 0 0 1 1389.9,591.1 A14.4,14.4 0 0 1 1363.4,593.8 A7.9,7.9 0 0 1 1353.0,583.4 A12.7,12.7 0 0 1 1343.9,561.8 A17.3,17.3 0 0 1 1357.8,532.9 Z" fill="#fffef6"/>
<g filter="url(#glowO)"><path d="M1357.8,532.9 A9.1,9.1 0 0 1 1371.8,523.5 A10.1,10.1 0 0 1 1387.1,512.8 A14.5,14.5 0 0 1 1413.5,508.2 A12.4,12.4 0 0 1 1426.1,527.3 A12.2,12.2 0 0 1 1429.5,549.7 A14.3,14.3 0 0 1 1417.0,573.0 A17.6,17.6 0 0 1 1389.9,591.1 A14.4,14.4 0 0 1 1363.4,593.8 A7.9,7.9 0 0 1 1353.0,583.4 A12.7,12.7 0 0 1 1343.9,561.8 A17.3,17.3 0 0 1 1357.8,532.9 Z" fill="none" stroke="#3333cc" stroke-width="4"/></g>
<path d="M1358.4,534.7 L1358.0,533.7 L1357.8,532.7 L1357.6,531.6 L1357.6,530.6 L1357.7,529.5 L1358.0,528.5 L1358.3,527.5 L1358.8,526.6 L1359.4,525.7 L1360.0,524.9 L1360.8,524.1 L1361.6,523.5 L1362.6,523.0 L1363.5,522.5 L1364.5,522.2 L1365.6,522.0 L1366.6,521.9 L1367.7,522.0 L1368.7,522.2 L1369.7,522.5 L1370.7,522.9 L1371.6,523.4 L1372.5,524.0 L1373.3,524.7 M1372.5,525.5 L1372.1,524.4 L1371.8,523.3 L1371.6,522.1 L1371.6,520.9 L1371.7,519.8 L1371.9,518.6 L1372.3,517.5 L1372.8,516.5 L1373.4,515.5 L1374.1,514.6 L1374.9,513.7 L1375.9,513.0 L1376.9,512.4 L1377.9,511.9 L1379.0,511.5 L1380.2,511.3 L1381.3,511.2 L1382.5,511.2 L1383.7,511.4 L1384.8,511.7 L1385.9,512.1 L1386.9,512.7 L1387.9,513.3 L1388.7,514.1 M1386.8,515.8 L1386.9,514.1 L1387.2,512.5 L1387.7,510.9 L1388.3,509.3 L1389.2,507.9 L1390.2,506.5 L1391.3,505.3 L1392.6,504.3 L1394.0,503.3 L1395.5,502.6 L1397.1,502.0 L1398.8,501.6 L1400.4,501.4 L1402.1,501.4 L1403.8,501.6 L1405.4,502.0 L1407.0,502.6 L1408.5,503.4 L1409.9,504.3 L1411.2,505.4 L1412.3,506.6 L1413.3,507.9 L1414.2,509.4 L1414.8,510.9 M1411.0,509.0 L1412.4,508.5 L1413.8,508.1 L1415.2,508.0 L1416.6,508.0 L1418.1,508.2 L1419.5,508.5 L1420.8,509.0 L1422.1,509.6 L1423.3,510.4 L1424.4,511.3 L1425.4,512.4 L1426.2,513.5 L1426.9,514.8 L1427.5,516.1 L1427.9,517.4 L1428.2,518.9 L1428.3,520.3 L1428.2,521.7 L1427.9,523.1 L1427.5,524.5 L1427.0,525.8 L1426.3,527.1 L1425.4,528.2 L1424.4,529.3 M1423.6,527.0 L1425.0,527.1 L1426.4,527.4 L1427.7,527.8 L1429.0,528.4 L1430.2,529.1 L1431.3,530.0 L1432.3,531.0 L1433.2,532.1 L1434.0,533.3 L1434.6,534.6 L1435.0,536.0 L1435.3,537.4 L1435.5,538.8 L1435.4,540.2 L1435.2,541.6 L1434.9,543.0 L1434.4,544.3 L1433.7,545.5 L1432.9,546.7 L1431.9,547.8 L1430.9,548.7 L1429.7,549.6 L1428.5,550.2 L1427.2,550.8 M1427.4,547.6 L1428.6,548.7 L1429.7,550.0 L1430.7,551.3 L1431.4,552.8 L1432.1,554.3 L1432.5,555.9 L1432.7,557.5 L1432.8,559.2 L1432.6,560.9 L1432.3,562.5 L1431.8,564.0 L1431.1,565.6 L1430.2,567.0 L1429.2,568.3 L1428.0,569.4 L1426.7,570.5 L1425.3,571.3 L1423.8,572.0 L1422.2,572.6 L1420.6,572.9 L1419.0,573.1 L1417.3,573.0 L1415.7,572.8 L1414.1,572.4 M1415.9,569.5 L1416.6,571.4 L1417.1,573.4 L1417.3,575.4 L1417.3,577.5 L1417.1,579.5 L1416.6,581.5 L1416.0,583.4 L1415.1,585.2 L1413.9,586.9 L1412.6,588.5 L1411.2,589.9 L1409.5,591.2 L1407.8,592.2 L1405.9,593.0 L1404.0,593.6 L1401.9,594.0 L1399.9,594.1 L1397.9,594.0 L1395.9,593.7 L1393.9,593.1 L1392.0,592.3 L1390.2,591.3 L1388.6,590.1 L1387.1,588.7 M1390.4,588.1 L1390.2,589.8 L1389.8,591.4 L1389.2,593.0 L1388.4,594.4 L1387.5,595.8 L1386.4,597.1 L1385.2,598.2 L1383.8,599.2 L1382.4,600.0 L1380.8,600.6 L1379.2,601.1 L1377.6,601.4 L1375.9,601.4 L1374.2,601.3 L1372.6,601.0 L1371.0,600.5 L1369.5,599.8 L1368.0,599.0 L1366.7,597.9 L1365.5,596.8 L1364.5,595.5 L1363.6,594.1 L1362.8,592.6 L1362.3,591.0 M1364.9,593.0 L1364.1,593.5 L1363.2,593.9 L1362.4,594.2 L1361.5,594.3 L1360.5,594.4 L1359.6,594.4 L1358.7,594.3 L1357.8,594.0 L1357.0,593.7 L1356.1,593.2 L1355.4,592.7 L1354.7,592.1 L1354.1,591.4 L1353.6,590.7 L1353.1,589.8 L1352.8,589.0 L1352.5,588.1 L1352.4,587.2 L1352.4,586.3 L1352.5,585.3 L1352.6,584.4 L1352.9,583.6 L1353.3,582.7 L1353.8,581.9 M1355.6,583.1 L1354.2,583.3 L1352.7,583.4 L1351.2,583.3 L1349.8,583.0 L1348.4,582.6 L1347.1,582.0 L1345.8,581.2 L1344.6,580.4 L1343.6,579.3 L1342.6,578.2 L1341.8,577.0 L1341.2,575.7 L1340.7,574.3 L1340.4,572.8 L1340.2,571.4 L1340.2,569.9 L1340.4,568.5 L1340.8,567.0 L1341.3,565.7 L1341.9,564.3 L1342.7,563.1 L1343.7,562.0 L1344.8,561.0 L1346.0,560.1 M1346.6,564.2 L1345.0,562.9 L1343.6,561.5 L1342.4,559.9 L1341.4,558.2 L1340.6,556.4 L1340.0,554.4 L1339.6,552.5 L1339.4,550.5 L1339.5,548.5 L1339.8,546.5 L1340.4,544.5 L1341.1,542.7 L1342.1,540.9 L1343.3,539.3 L1344.6,537.8 L1346.2,536.5 L1347.8,535.4 L1349.6,534.4 L1351.5,533.7 L1353.4,533.2 L1355.4,532.9 L1357.4,532.9 L1359.4,533.1 L1361.4,533.5 " fill="none" stroke="#3333cc" stroke-width="4" stroke-linecap="butt"/>
<path d="M1416.6,543 A14,14 0 0 1 1428,551" fill="none" stroke="#3333cc" stroke-width="4"/>
<text x="0" y="0" font-family="Liberation Serif" font-weight="bold" font-size="27.5" text-anchor="middle" transform="translate(1385,556) rotate(-46) translate(0,9.1)">COOH</text>
<rect x="0" y="0" width="5" height="2" fill="#000" transform="translate(1410.5,518.5) rotate(-46)"/>
<rect x="1101.7" y="588.5" width="211.6" height="93.5" rx="17" fill="none" stroke="#7f6000" stroke-width="4.6" stroke-dasharray="12 6.5" stroke-dashoffset="-3"/>
<text x="1105.6" y="631.1" font-family="Liberation Serif" font-weight="bold" font-size="35.9" fill="#ff0000" >-eV</text>
<rect x="1154.8" y="620" width="21.6" height="2.6" fill="#000"/><rect x="1164.3" y="610" width="2.6" height="22.3" fill="#000"/>
<rect x="1230.8" y="620" width="21.6" height="2.6" fill="#000"/><rect x="1240.3" y="610" width="2.6" height="22.3" fill="#000"/>
<g filter="url(#sh)"><ellipse cx="1192.6" cy="619" rx="14" ry="19.3" fill="url(#orS)"/><ellipse cx="1208.2" cy="618" rx="15.5" ry="19.1" fill="url(#h2B)"/></g>
<g filter="url(#sh)"><ellipse cx="1270" cy="619" rx="14.3" ry="19.3" fill="url(#orS)"/><ellipse cx="1290.5" cy="619.5" rx="15.6" ry="19.5" fill="url(#whtB)"/></g>
<text x="1179.5" y="668.7" font-family="Liberation Serif" font-weight="bold" font-size="31.4" fill="#ff0000" >OH</text>
<rect x="1229" y="653.6" width="6.7" height="2" fill="#ff0000"/>
<text x="1260.3" y="668.6" font-family="Liberation Serif" font-weight="bold" font-size="32.6" fill="#ff0000" >CO</text>
</svg>
</body></html>
